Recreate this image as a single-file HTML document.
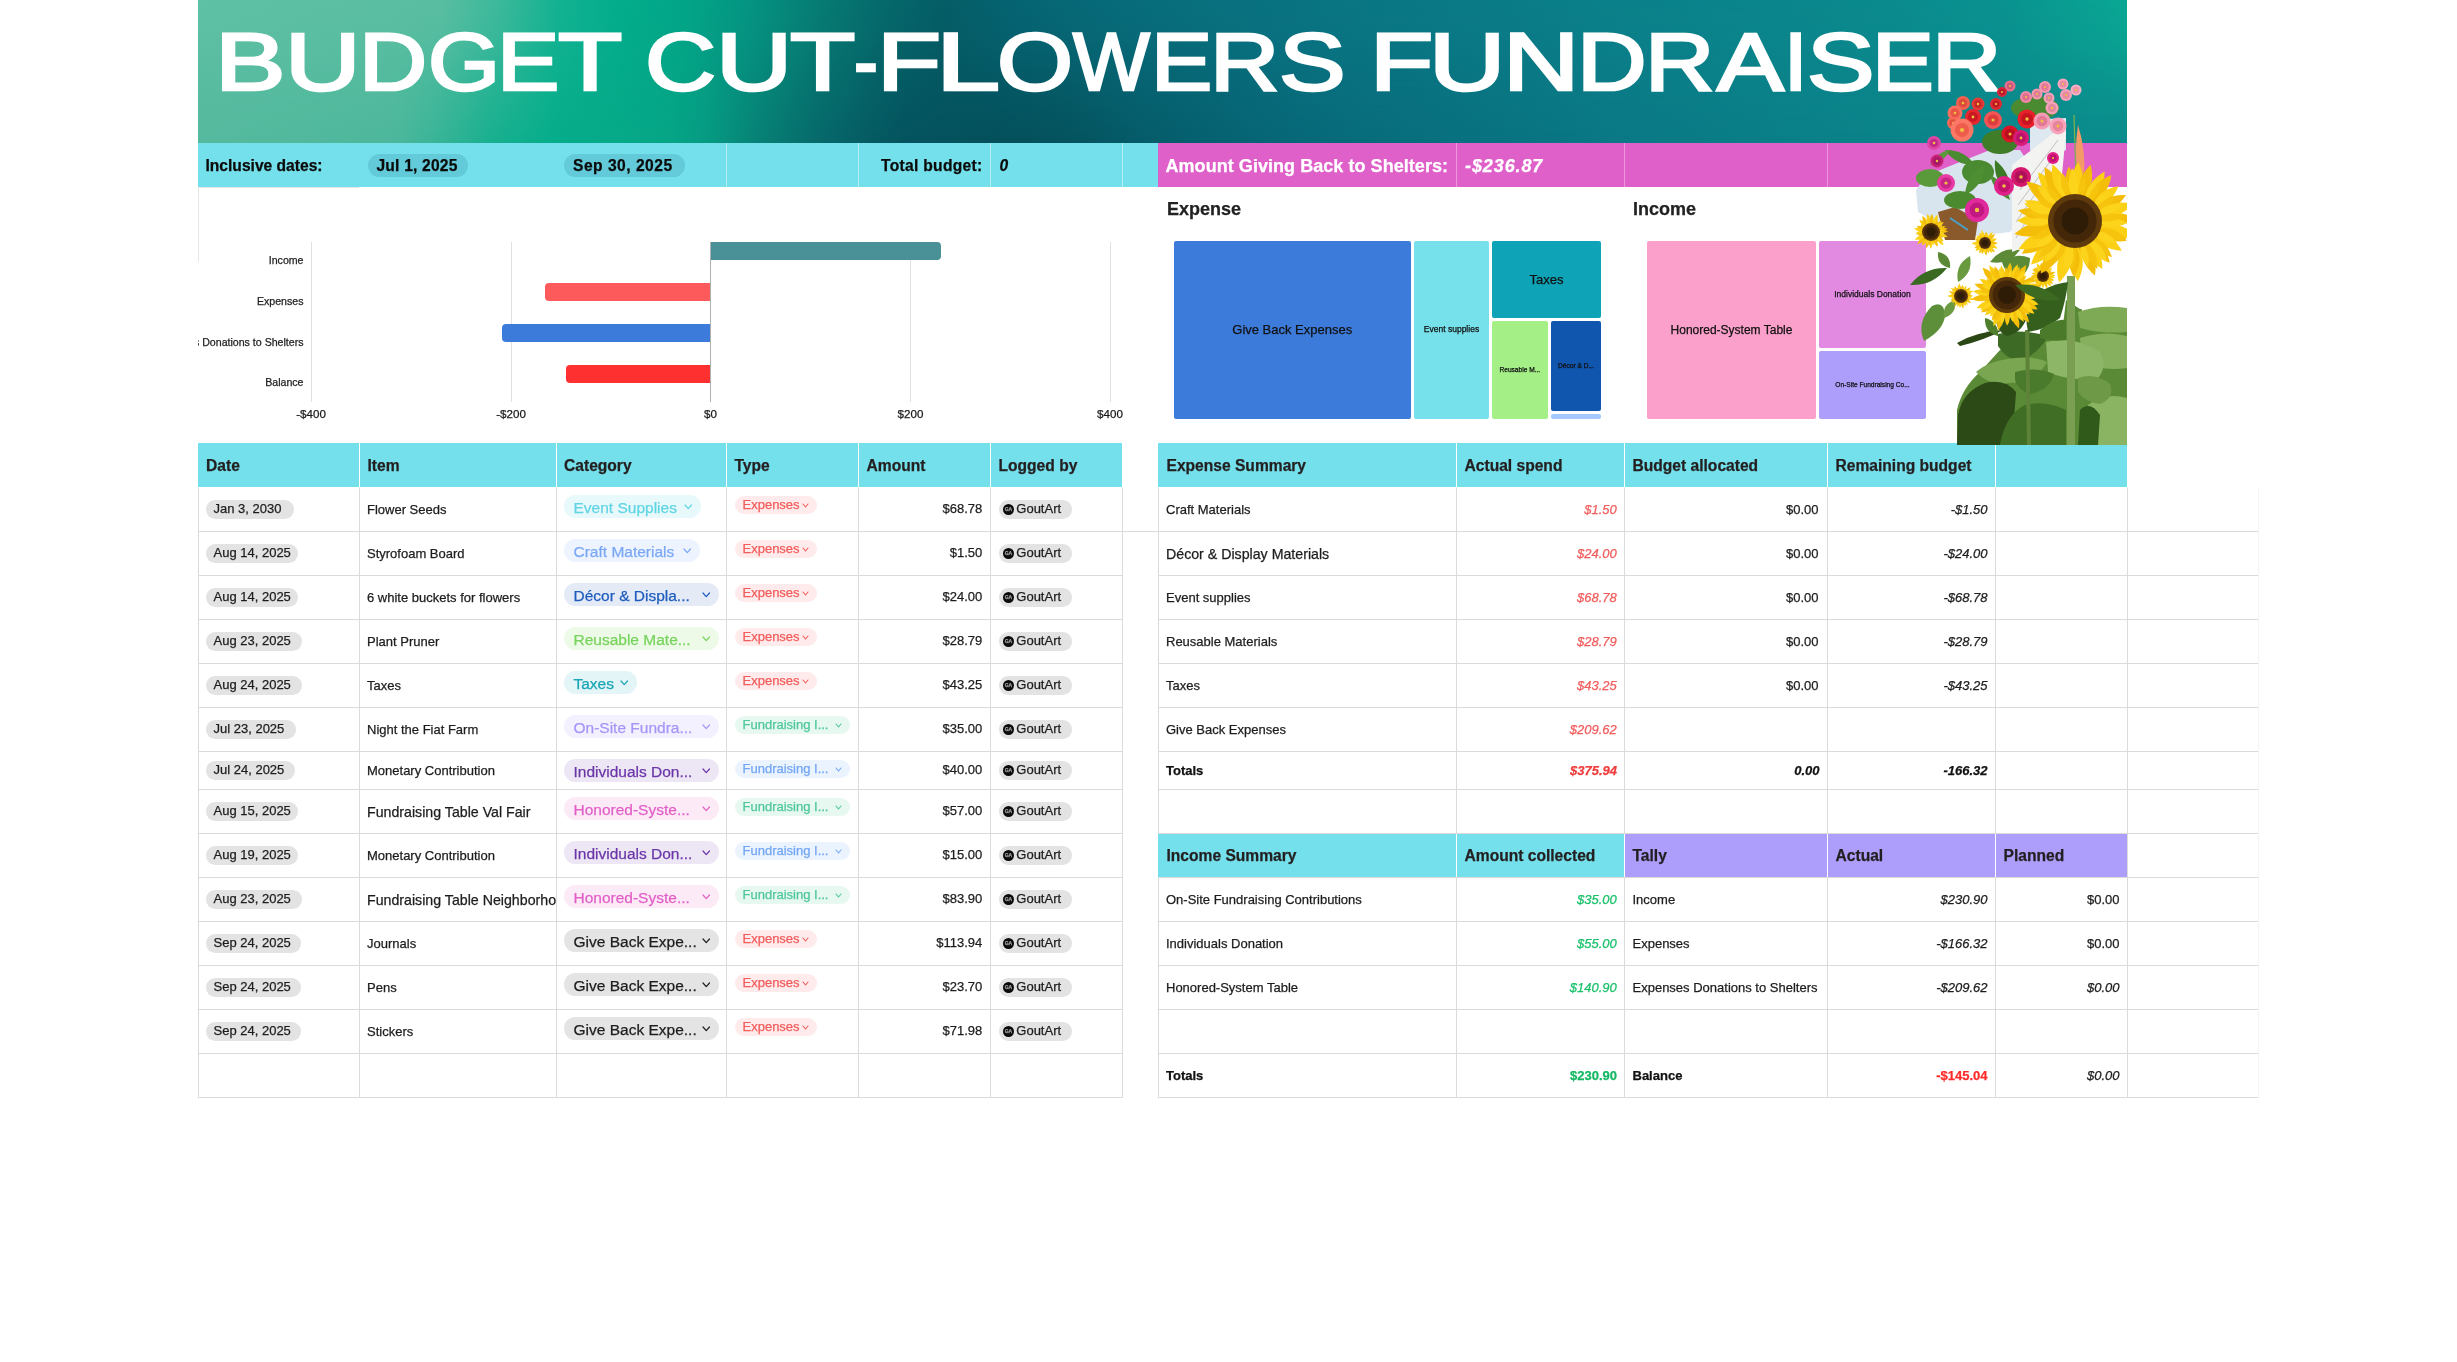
<!DOCTYPE html>
<html><head><meta charset="utf-8"><title>Budget Cut-Flowers Fundraiser</title>
<style>
*{margin:0;padding:0;box-sizing:border-box}
html,body{width:2457px;height:1362px;background:#fff;overflow:hidden}
body{position:relative;font-family:'Liberation Sans', sans-serif}
.a{position:absolute}
.t{position:absolute;white-space:nowrap;line-height:1;font-family:'Liberation Sans', sans-serif}
.t{-webkit-text-stroke:0.25px currentColor}
#root{position:absolute;left:0;top:0;width:2457px;height:1362px;will-change:transform}
</style></head>
<body><div id="root">
<div class="a" id="banner" style="left:198px;top:0;width:1929px;height:143px;background:linear-gradient(90deg,#5ec0a5 0.00%,#5abea2 12.55%,#3cb99b 15.66%,#12b292 18.77%,#03ad8c 21.88%,#03a487 25.51%,#059482 28.62%,#077c74 32.24%,#066a6c 35.36%,#055d66 38.72%,#066472 42.09%,#086b79 46.76%,#0a7482 57.13%,#0b808a 72.68%,#0b8b8e 88.23%,#0a9290 93.42%,#0a9c92 96.53%,#0aa894 100.00%);"></div><div class="a" style="left:198px;top:0;width:1929px;height:143px;background:linear-gradient(90deg,#55b99e 0.00%,#4db79b 10.16%,#3ab497 12.23%,#18af8f 15.14%,#06ad8a 18.30%,#05a586 24.42%,#069a82 26.44%,#078074 29.13%,#06686a 32.24%,#055c63 34.58%,#04535e 36.65%,#03505b 41.58%,#04525d 44.79%,#055b69 48.83%,#076878 56.97%,#0a7885 73.25%,#0b8489 89.53%,#0b8a8c 100.00%);-webkit-mask-image:linear-gradient(180deg,rgba(0,0,0,0) 0%,rgba(0,0,0,0.15) 25%,rgba(0,0,0,0.6) 60%,#000 100%);mask-image:linear-gradient(180deg,rgba(0,0,0,0) 0%,rgba(0,0,0,0.15) 25%,rgba(0,0,0,0.6) 60%,#000 100%);"></div><div class="t" style="left:215.34px;top:20.50px;font-size:82px;color:#fff;-webkit-text-stroke:2.6px #fff;transform:scaleX(1.2915);transform-origin:0 0;">B</div><div class="t" style="left:284.62px;top:20.50px;font-size:82px;color:#fff;-webkit-text-stroke:2.6px #fff;transform:scaleX(1.2755);transform-origin:0 0;">U</div><div class="t" style="left:358.85px;top:20.50px;font-size:82px;color:#fff;-webkit-text-stroke:2.6px #fff;transform:scaleX(1.1500);transform-origin:0 0;">D</div><div class="t" style="left:427.81px;top:20.50px;font-size:82px;color:#fff;-webkit-text-stroke:2.6px #fff;transform:scaleX(1.1304);transform-origin:0 0;">G</div><div class="t" style="left:496.50px;top:20.50px;font-size:82px;color:#fff;-webkit-text-stroke:2.6px #fff;transform:scaleX(1.1396);transform-origin:0 0;">E</div><div class="t" style="left:557.70px;top:20.50px;font-size:82px;color:#fff;-webkit-text-stroke:2.6px #fff;transform:scaleX(1.2820);transform-origin:0 0;">T</div><div class="t" style="left:645.21px;top:20.50px;font-size:82px;color:#fff;-webkit-text-stroke:2.6px #fff;transform:scaleX(1.1982);transform-origin:0 0;">C</div><div class="t" style="left:715.67px;top:20.50px;font-size:82px;color:#fff;-webkit-text-stroke:2.6px #fff;transform:scaleX(1.2857);transform-origin:0 0;">U</div><div class="t" style="left:789.50px;top:20.50px;font-size:82px;color:#fff;-webkit-text-stroke:2.6px #fff;transform:scaleX(1.3040);transform-origin:0 0;">T</div><div class="t" style="left:854.35px;top:20.50px;font-size:82px;color:#fff;-webkit-text-stroke:2.6px #fff;transform:scaleX(0.8739);transform-origin:0 0;">-</div><div class="t" style="left:876.80px;top:20.50px;font-size:82px;color:#fff;-webkit-text-stroke:2.6px #fff;transform:scaleX(1.2791);transform-origin:0 0;">F</div><div class="t" style="left:936.27px;top:20.50px;font-size:82px;color:#fff;-webkit-text-stroke:2.6px #fff;transform:scaleX(1.4051);transform-origin:0 0;">L</div><div class="t" style="left:996.52px;top:20.50px;font-size:82px;color:#fff;-webkit-text-stroke:2.6px #fff;transform:scaleX(1.1931);transform-origin:0 0;">O</div><div class="t" style="left:1072.79px;top:20.50px;font-size:82px;color:#fff;-webkit-text-stroke:2.6px #fff;transform:scaleX(0.9912);transform-origin:0 0;">W</div><div class="t" style="left:1151.01px;top:20.50px;font-size:82px;color:#fff;-webkit-text-stroke:2.6px #fff;transform:scaleX(1.1188);transform-origin:0 0;">E</div><div class="t" style="left:1210.34px;top:20.50px;font-size:82px;color:#fff;-webkit-text-stroke:2.6px #fff;transform:scaleX(1.1712);transform-origin:0 0;">R</div><div class="t" style="left:1278.76px;top:20.50px;font-size:82px;color:#fff;-webkit-text-stroke:2.6px #fff;transform:scaleX(1.2180);transform-origin:0 0;">S</div><div class="t" style="left:1369.67px;top:20.50px;font-size:82px;color:#fff;-webkit-text-stroke:2.6px #fff;transform:scaleX(1.2651);transform-origin:0 0;">F</div><div class="t" style="left:1429.36px;top:20.50px;font-size:82px;color:#fff;-webkit-text-stroke:2.6px #fff;transform:scaleX(1.2878);transform-origin:0 0;">U</div><div class="t" style="left:1502.56px;top:20.50px;font-size:82px;color:#fff;-webkit-text-stroke:2.6px #fff;transform:scaleX(1.2878);transform-origin:0 0;">N</div><div class="t" style="left:1577.03px;top:20.50px;font-size:82px;color:#fff;-webkit-text-stroke:2.6px #fff;transform:scaleX(1.1750);transform-origin:0 0;">D</div><div class="t" style="left:1645.43px;top:20.50px;font-size:82px;color:#fff;-webkit-text-stroke:2.6px #fff;transform:scaleX(1.1731);transform-origin:0 0;">R</div><div class="t" style="left:1716.94px;top:20.50px;font-size:82px;color:#fff;-webkit-text-stroke:2.6px #fff;transform:scaleX(1.2207);transform-origin:0 0;">A</div><div class="t" style="left:1784.44px;top:20.50px;font-size:82px;color:#fff;-webkit-text-stroke:2.6px #fff;transform:scaleX(1.0273);transform-origin:0 0;">I</div><div class="t" style="left:1806.93px;top:20.50px;font-size:82px;color:#fff;-webkit-text-stroke:2.6px #fff;transform:scaleX(1.2340);transform-origin:0 0;">S</div><div class="t" style="left:1872.25px;top:20.50px;font-size:82px;color:#fff;-webkit-text-stroke:2.6px #fff;transform:scaleX(1.1292);transform-origin:0 0;">E</div><div class="t" style="left:1931.53px;top:20.50px;font-size:82px;color:#fff;-webkit-text-stroke:2.6px #fff;transform:scaleX(1.1731);transform-origin:0 0;">R</div><div class="a" style="left:198px;top:143px;width:960px;height:44px;background:#74e0eb;"></div><div class="a" style="left:1158px;top:143px;width:969px;height:44px;background:#df60c9;"></div><div class="a" style="left:726px;top:143px;width:1px;height:44px;background:rgba(255,255,255,0.45);"></div><div class="a" style="left:858px;top:143px;width:1px;height:44px;background:rgba(255,255,255,0.45);"></div><div class="a" style="left:990px;top:143px;width:1px;height:44px;background:rgba(255,255,255,0.45);"></div><div class="a" style="left:1122px;top:143px;width:1px;height:44px;background:rgba(255,255,255,0.45);"></div><div class="a" style="left:1456px;top:143px;width:1px;height:44px;background:rgba(255,255,255,0.35);"></div><div class="a" style="left:1624px;top:143px;width:1px;height:44px;background:rgba(255,255,255,0.35);"></div><div class="a" style="left:1827px;top:143px;width:1px;height:44px;background:rgba(255,255,255,0.35);"></div><div class="t" style="top:158.34px;font-size:15.6px;color:#0b0b0b;font-weight:bold;left:205.50px;">Inclusive dates:</div><div class="a" style="left:368px;top:154px;width:100px;height:23px;background:#62cad9;border-radius:12px;"></div><div class="a" style="left:564px;top:154px;width:120.5px;height:23px;background:#62cad9;border-radius:12px;"></div><div class="t" style="top:158.34px;font-size:15.6px;color:#0b0b0b;font-weight:bold;letter-spacing:0.2px;left:376.50px;">Jul 1, 2025</div><div class="t" style="top:158.34px;font-size:15.6px;color:#0b0b0b;font-weight:bold;letter-spacing:0.5px;left:573.00px;">Sep 30, 2025</div><div class="t" style="top:158.34px;font-size:15.6px;color:#0b0b0b;font-weight:bold;letter-spacing:0.3px;right:1474.50px;">Total budget:</div><div class="t" style="top:158.34px;font-size:15.6px;color:#0b0b0b;font-weight:bold;font-style:italic;left:999.50px;">0</div><div class="t" style="top:156.70px;font-size:18px;color:#ffffff;font-weight:bold;letter-spacing:0.05px;left:1165.50px;">Amount Giving Back to Shelters:</div><div class="t" style="top:156.70px;font-size:18px;color:#ffffff;font-weight:bold;font-style:italic;letter-spacing:0.9px;left:1465.00px;">-$236.87</div><div class="a" style="left:198px;top:187px;width:161px;height:1px;background:#e6e6e6;"></div><div class="a" style="left:198px;top:187px;width:1px;height:75px;background:#e6e6e6;"></div><div class="a" style="left:311px;top:242px;width:1px;height:160px;background:#e0e0e0;"></div><div class="a" style="left:511px;top:242px;width:1px;height:160px;background:#e0e0e0;"></div><div class="a" style="left:910px;top:242px;width:1px;height:160px;background:#e0e0e0;"></div><div class="a" style="left:1110px;top:242px;width:1px;height:160px;background:#e0e0e0;"></div><div class="a" style="left:710px;top:242px;width:1px;height:160px;background:#b0b0b0;"></div><div class="a" style="left:711px;top:242px;width:230px;height:18px;background:#4a9197;border-radius:0 4px 4px 0;"></div><div class="a" style="left:545px;top:283px;width:165px;height:17.5px;background:#fc5a5b;border-radius:4px 0 0 4px;"></div><div class="a" style="left:501.5px;top:324px;width:208.5px;height:17.5px;background:#3d7bdb;border-radius:4px 0 0 4px;"></div><div class="a" style="left:566px;top:365px;width:144px;height:17.5px;background:#ff3030;border-radius:4px 0 0 4px;"></div><div class="t" style="top:407.74px;font-size:11.6px;color:#1a1a1a;left:-189.00px;width:1000px;text-align:center;">-$400</div><div class="t" style="top:407.74px;font-size:11.6px;color:#1a1a1a;left:11.00px;width:1000px;text-align:center;">-$200</div><div class="t" style="top:407.74px;font-size:11.6px;color:#1a1a1a;left:210.50px;width:1000px;text-align:center;">$0</div><div class="t" style="top:407.74px;font-size:11.6px;color:#1a1a1a;left:410.50px;width:1000px;text-align:center;">$200</div><div class="t" style="top:407.74px;font-size:11.6px;color:#1a1a1a;left:610.00px;width:1000px;text-align:center;">$400</div><div class="a" style="left:198px;top:240px;width:120px;height:160px;overflow:hidden;"><div class="t" style="right:14.5px;top:14.99px;font-size:10.6px;color:#222;">Income</div><div class="t" style="right:14.5px;top:55.99px;font-size:10.6px;color:#222;">Expenses</div><div class="t" style="right:14.5px;top:96.99px;font-size:10.6px;color:#222;">Expenses Donations to Shelters</div><div class="t" style="right:14.5px;top:136.99px;font-size:10.6px;color:#222;">Balance</div></div><div class="t" style="top:200.00px;font-size:18px;color:#222;font-weight:bold;left:1167.00px;">Expense</div><div class="t" style="top:200.00px;font-size:18px;color:#222;font-weight:bold;left:1633.00px;">Income</div><div class="a" style="left:1174px;top:240.6px;width:236.5px;height:178.1px;background:#3d7bdb;border-radius:2px;"></div><div class="t" style="top:323.15px;font-size:13px;color:#111;left:792.25px;width:1000px;text-align:center;">Give Back Expenses</div><div class="a" style="left:1414px;top:240.6px;width:75px;height:178.1px;background:#76e0eb;border-radius:2px;"></div><div class="t" style="top:325.40px;font-size:8.5px;color:#111;left:951.50px;width:1000px;text-align:center;">Event supplies</div><div class="a" style="left:1492px;top:240.6px;width:109px;height:77.1px;background:#0ea3b6;border-radius:2px;"></div><div class="t" style="top:272.65px;font-size:13px;color:#111;left:1046.50px;width:1000px;text-align:center;">Taxes</div><div class="a" style="left:1492px;top:321px;width:55.59999999999991px;height:97.69999999999999px;background:#a4f087;border-radius:2px;"></div><div class="t" style="top:366.55px;font-size:6.6px;color:#111;left:1019.80px;width:1000px;text-align:center;">Reusable M...</div><div class="a" style="left:1551px;top:321px;width:50px;height:90px;background:#1055ae;border-radius:2px;"></div><div class="t" style="top:362.70px;font-size:6.6px;color:#111;left:1076.00px;width:1000px;text-align:center;">Décor &amp; D...</div><div class="a" style="left:1551px;top:414.4px;width:50px;height:4.300000000000011px;background:#a6c8ff;border-radius:2px;"></div><div class="a" style="left:1647px;top:240.6px;width:169px;height:178.1px;background:#fba0ca;border-radius:2px;"></div><div class="t" style="top:323.65px;font-size:12px;color:#111;left:1231.50px;width:1000px;text-align:center;">Honored-System Table</div><div class="a" style="left:1819px;top:240.6px;width:107px;height:107.1px;background:#e28ae2;border-radius:2px;"></div><div class="t" style="top:289.90px;font-size:8.5px;color:#111;left:1372.50px;width:1000px;text-align:center;">Individuals Donation</div><div class="a" style="left:1819px;top:351.3px;width:107px;height:67.39999999999998px;background:#ae9efc;border-radius:2px;"></div><div class="t" style="top:381.70px;font-size:6.6px;color:#111;left:1372.50px;width:1000px;text-align:center;">On-Site Fundraising Co...</div><div class="a" style="left:198px;top:531px;width:925px;height:1px;background:#dbdbdb;"></div><div class="a" style="left:198px;top:575px;width:925px;height:1px;background:#dbdbdb;"></div><div class="a" style="left:198px;top:619px;width:925px;height:1px;background:#dbdbdb;"></div><div class="a" style="left:198px;top:663px;width:925px;height:1px;background:#dbdbdb;"></div><div class="a" style="left:198px;top:707px;width:925px;height:1px;background:#dbdbdb;"></div><div class="a" style="left:198px;top:751px;width:925px;height:1px;background:#dbdbdb;"></div><div class="a" style="left:198px;top:789px;width:925px;height:1px;background:#dbdbdb;"></div><div class="a" style="left:198px;top:833px;width:925px;height:1px;background:#dbdbdb;"></div><div class="a" style="left:198px;top:877px;width:925px;height:1px;background:#dbdbdb;"></div><div class="a" style="left:198px;top:921px;width:925px;height:1px;background:#dbdbdb;"></div><div class="a" style="left:198px;top:965px;width:925px;height:1px;background:#dbdbdb;"></div><div class="a" style="left:198px;top:1009px;width:925px;height:1px;background:#dbdbdb;"></div><div class="a" style="left:198px;top:1053px;width:925px;height:1px;background:#dbdbdb;"></div><div class="a" style="left:198px;top:1097px;width:925px;height:1px;background:#dbdbdb;"></div><div class="a" style="left:198px;top:488px;width:1px;height:609px;background:#dbdbdb;"></div><div class="a" style="left:359px;top:488px;width:1px;height:609px;background:#dbdbdb;"></div><div class="a" style="left:556px;top:488px;width:1px;height:609px;background:#dbdbdb;"></div><div class="a" style="left:726px;top:488px;width:1px;height:609px;background:#dbdbdb;"></div><div class="a" style="left:858px;top:488px;width:1px;height:609px;background:#dbdbdb;"></div><div class="a" style="left:990px;top:488px;width:1px;height:609px;background:#dbdbdb;"></div><div class="a" style="left:1122px;top:488px;width:1px;height:609px;background:#dbdbdb;"></div><div class="a" style="left:1122px;top:531px;width:36px;height:1px;background:#dbdbdb;"></div><div class="a" style="left:1158px;top:531px;width:1101px;height:1px;background:#dbdbdb;"></div><div class="a" style="left:1158px;top:575px;width:1101px;height:1px;background:#dbdbdb;"></div><div class="a" style="left:1158px;top:619px;width:1101px;height:1px;background:#dbdbdb;"></div><div class="a" style="left:1158px;top:663px;width:1101px;height:1px;background:#dbdbdb;"></div><div class="a" style="left:1158px;top:707px;width:1101px;height:1px;background:#dbdbdb;"></div><div class="a" style="left:1158px;top:751px;width:1101px;height:1px;background:#dbdbdb;"></div><div class="a" style="left:1158px;top:789px;width:1101px;height:1px;background:#dbdbdb;"></div><div class="a" style="left:1158px;top:833px;width:1101px;height:1px;background:#dbdbdb;"></div><div class="a" style="left:1158px;top:877px;width:1101px;height:1px;background:#dbdbdb;"></div><div class="a" style="left:1158px;top:921px;width:1101px;height:1px;background:#dbdbdb;"></div><div class="a" style="left:1158px;top:965px;width:1101px;height:1px;background:#dbdbdb;"></div><div class="a" style="left:1158px;top:1009px;width:1101px;height:1px;background:#dbdbdb;"></div><div class="a" style="left:1158px;top:1053px;width:1101px;height:1px;background:#dbdbdb;"></div><div class="a" style="left:1158px;top:1097px;width:1101px;height:1px;background:#dbdbdb;"></div><div class="a" style="left:1158px;top:488px;width:1px;height:610px;background:#dbdbdb;"></div><div class="a" style="left:1456px;top:488px;width:1px;height:610px;background:#dbdbdb;"></div><div class="a" style="left:1624px;top:488px;width:1px;height:610px;background:#dbdbdb;"></div><div class="a" style="left:1827px;top:488px;width:1px;height:610px;background:#dbdbdb;"></div><div class="a" style="left:1995px;top:488px;width:1px;height:610px;background:#dbdbdb;"></div><div class="a" style="left:2127px;top:488px;width:1px;height:610px;background:#dbdbdb;"></div><div class="a" style="left:2258px;top:488px;width:1px;height:610px;background:#f4f4f4;"></div><div class="a" style="left:198px;top:443px;width:924px;height:44px;background:#74e0eb;"></div><div class="a" style="left:359px;top:443px;width:1px;height:44px;background:#ffffff;"></div><div class="a" style="left:556px;top:443px;width:1px;height:44px;background:#ffffff;"></div><div class="a" style="left:726px;top:443px;width:1px;height:44px;background:#ffffff;"></div><div class="a" style="left:858px;top:443px;width:1px;height:44px;background:#ffffff;"></div><div class="a" style="left:990px;top:443px;width:1px;height:44px;background:#ffffff;"></div><div class="a" style="left:1158px;top:443px;width:969px;height:44px;background:#74e0eb;"></div><div class="a" style="left:1456px;top:443px;width:1px;height:44px;background:#ffffff;"></div><div class="a" style="left:1624px;top:443px;width:1px;height:44px;background:#ffffff;"></div><div class="a" style="left:1827px;top:443px;width:1px;height:44px;background:#ffffff;"></div><div class="a" style="left:1995px;top:443px;width:1px;height:44px;background:#ffffff;"></div><div class="a" style="left:1158px;top:834px;width:466px;height:43px;background:#74e0eb;"></div><div class="a" style="left:1624px;top:834px;width:503px;height:43px;background:#ae9efc;"></div><div class="a" style="left:1456px;top:834px;width:1px;height:43px;background:#ffffff;"></div><div class="a" style="left:1624px;top:834px;width:1px;height:43px;background:#ffffff;"></div><div class="a" style="left:1827px;top:834px;width:1px;height:43px;background:#ffffff;"></div><div class="a" style="left:1995px;top:834px;width:1px;height:43px;background:#ffffff;"></div><div class="t" style="top:458.04px;font-size:15.6px;color:#231f20;font-weight:bold;left:206.00px;">Date</div><div class="t" style="top:458.04px;font-size:15.6px;color:#231f20;font-weight:bold;left:367.50px;">Item</div><div class="t" style="top:458.04px;font-size:15.6px;color:#231f20;font-weight:bold;left:564.00px;">Category</div><div class="t" style="top:458.04px;font-size:15.6px;color:#231f20;font-weight:bold;left:734.50px;">Type</div><div class="t" style="top:458.04px;font-size:15.6px;color:#231f20;font-weight:bold;left:866.50px;">Amount</div><div class="t" style="top:458.04px;font-size:15.6px;color:#231f20;font-weight:bold;left:998.50px;">Logged by</div><div class="t" style="top:458.04px;font-size:15.6px;color:#231f20;font-weight:bold;left:1166.50px;">Expense Summary</div><div class="t" style="top:458.04px;font-size:15.6px;color:#231f20;font-weight:bold;left:1464.50px;">Actual spend</div><div class="t" style="top:458.04px;font-size:15.6px;color:#231f20;font-weight:bold;left:1632.50px;">Budget allocated</div><div class="t" style="top:458.04px;font-size:15.6px;color:#231f20;font-weight:bold;left:1835.50px;">Remaining budget</div><div class="t" style="top:848.24px;font-size:15.6px;color:#231f20;font-weight:bold;left:1166.50px;">Income Summary</div><div class="t" style="top:848.24px;font-size:15.6px;color:#231f20;font-weight:bold;left:1464.50px;">Amount collected</div><div class="t" style="top:848.24px;font-size:15.6px;color:#231f20;font-weight:bold;left:1632.50px;">Tally</div><div class="t" style="top:848.24px;font-size:15.6px;color:#231f20;font-weight:bold;left:1835.50px;">Actual</div><div class="t" style="top:848.24px;font-size:15.6px;color:#231f20;font-weight:bold;left:2003.50px;">Planned</div><div class="a" style="left:206px;top:500.3px;width:87.6px;height:18.4px;background:#e3e3e3;border-radius:9.2px;"></div><div class="t" style="top:502.05px;font-size:13px;color:#1d1d1f;left:213.50px;">Jan 3, 2030</div><div class="t" style="top:502.95px;font-size:13px;color:#1d1d1f;left:367.00px;">Flower Seeds</div><div class="a" style="left:564px;top:495px;width:136.8px;height:22.8px;background:#e8f9fb;border-radius:11.4px;"></div><div class="t" style="top:499.62px;font-size:15.5px;color:#5fd5e4;left:573.50px;">Event Supplies</div><svg class="a" style="left:683.8px;top:504.4px" width="8.5" height="5.6"><path d="M1 1 L4.25 4.6 L7.5 1" fill="none" stroke="#5fd5e4" stroke-width="1.2" stroke-linecap="round" stroke-linejoin="round"/></svg><div class="a" style="left:735px;top:495.5px;width:82px;height:18.4px;background:#ffebeb;border-radius:9.2px;"></div><div class="t" style="top:498.05px;font-size:13px;color:#f35b5b;left:742.50px;">Expenses</div><svg class="a" style="left:802px;top:502.5px" width="7" height="5"><path d="M1 1 L3.5 4 L6 1" fill="none" stroke="#f35b5b" stroke-width="1.1" stroke-linecap="round" stroke-linejoin="round"/></svg><div class="t" style="top:502.45px;font-size:13px;color:#1d1d1f;right:1474.70px;">$68.78</div><div class="a" style="left:999px;top:500.4px;width:73px;height:18.4px;background:#e3e3e3;border-radius:9.2px;"></div><div class="a" style="left:1002.8px;top:503.90px;width:11.3px;height:11.3px;border-radius:50%;background:#0a0a0a;"></div><div class="t" style="top:507.05px;font-size:5px;color:#a0a0a0;font-weight:bold;left:508.45px;width:1000px;text-align:center;">GA</div><div class="t" style="top:501.85px;font-size:13px;color:#1d1d1f;left:1016.30px;">GoutArt</div><div class="a" style="left:206px;top:544.3px;width:92.2px;height:18.4px;background:#e3e3e3;border-radius:9.2px;"></div><div class="t" style="top:546.05px;font-size:13px;color:#1d1d1f;left:213.50px;">Aug 14, 2025</div><div class="t" style="top:546.95px;font-size:13px;color:#1d1d1f;left:367.00px;">Styrofoam Board</div><div class="a" style="left:564px;top:539px;width:136px;height:22.8px;background:#edf4ff;border-radius:11.4px;"></div><div class="t" style="top:543.62px;font-size:15.5px;color:#7ba8f5;left:573.50px;">Craft Materials</div><svg class="a" style="left:683px;top:548.4000000000001px" width="8.5" height="5.6"><path d="M1 1 L4.25 4.6 L7.5 1" fill="none" stroke="#7ba8f5" stroke-width="1.2" stroke-linecap="round" stroke-linejoin="round"/></svg><div class="a" style="left:735px;top:539.5px;width:82px;height:18.4px;background:#ffebeb;border-radius:9.2px;"></div><div class="t" style="top:542.05px;font-size:13px;color:#f35b5b;left:742.50px;">Expenses</div><svg class="a" style="left:802px;top:546.5px" width="7" height="5"><path d="M1 1 L3.5 4 L6 1" fill="none" stroke="#f35b5b" stroke-width="1.1" stroke-linecap="round" stroke-linejoin="round"/></svg><div class="t" style="top:546.45px;font-size:13px;color:#1d1d1f;right:1474.70px;">$1.50</div><div class="a" style="left:999px;top:544.4px;width:73px;height:18.4px;background:#e3e3e3;border-radius:9.2px;"></div><div class="a" style="left:1002.8px;top:547.90px;width:11.3px;height:11.3px;border-radius:50%;background:#0a0a0a;"></div><div class="t" style="top:551.05px;font-size:5px;color:#a0a0a0;font-weight:bold;left:508.45px;width:1000px;text-align:center;">GA</div><div class="t" style="top:545.85px;font-size:13px;color:#1d1d1f;left:1016.30px;">GoutArt</div><div class="a" style="left:206px;top:588.3px;width:92.2px;height:18.4px;background:#e3e3e3;border-radius:9.2px;"></div><div class="t" style="top:590.05px;font-size:13px;color:#1d1d1f;left:213.50px;">Aug 14, 2025</div><div class="t" style="top:590.95px;font-size:13px;color:#1d1d1f;left:367.00px;">6 white buckets for flowers</div><div class="a" style="left:564px;top:583px;width:154.7px;height:22.8px;background:#e4ebf7;border-radius:11.4px;"></div><div class="t" style="top:587.62px;font-size:15.5px;color:#1f5cbd;left:573.50px;">Décor &amp; Displa...</div><svg class="a" style="left:701.7px;top:592.4000000000001px" width="8.5" height="5.6"><path d="M1 1 L4.25 4.6 L7.5 1" fill="none" stroke="#1f5cbd" stroke-width="1.2" stroke-linecap="round" stroke-linejoin="round"/></svg><div class="a" style="left:735px;top:583.5px;width:82px;height:18.4px;background:#ffebeb;border-radius:9.2px;"></div><div class="t" style="top:586.05px;font-size:13px;color:#f35b5b;left:742.50px;">Expenses</div><svg class="a" style="left:802px;top:590.5px" width="7" height="5"><path d="M1 1 L3.5 4 L6 1" fill="none" stroke="#f35b5b" stroke-width="1.1" stroke-linecap="round" stroke-linejoin="round"/></svg><div class="t" style="top:590.45px;font-size:13px;color:#1d1d1f;right:1474.70px;">$24.00</div><div class="a" style="left:999px;top:588.4px;width:73px;height:18.4px;background:#e3e3e3;border-radius:9.2px;"></div><div class="a" style="left:1002.8px;top:591.90px;width:11.3px;height:11.3px;border-radius:50%;background:#0a0a0a;"></div><div class="t" style="top:595.05px;font-size:5px;color:#a0a0a0;font-weight:bold;left:508.45px;width:1000px;text-align:center;">GA</div><div class="t" style="top:589.85px;font-size:13px;color:#1d1d1f;left:1016.30px;">GoutArt</div><div class="a" style="left:206px;top:632.3px;width:95.6px;height:18.4px;background:#e3e3e3;border-radius:9.2px;"></div><div class="t" style="top:634.05px;font-size:13px;color:#1d1d1f;left:213.50px;">Aug 23, 2025</div><div class="t" style="top:634.95px;font-size:13px;color:#1d1d1f;left:367.00px;">Plant Pruner</div><div class="a" style="left:564px;top:627px;width:154.7px;height:22.8px;background:#edfae7;border-radius:11.4px;"></div><div class="t" style="top:631.62px;font-size:15.5px;color:#78d35c;left:573.50px;">Reusable Mate...</div><svg class="a" style="left:701.7px;top:636.4000000000001px" width="8.5" height="5.6"><path d="M1 1 L4.25 4.6 L7.5 1" fill="none" stroke="#78d35c" stroke-width="1.2" stroke-linecap="round" stroke-linejoin="round"/></svg><div class="a" style="left:735px;top:627.5px;width:82px;height:18.4px;background:#ffebeb;border-radius:9.2px;"></div><div class="t" style="top:630.05px;font-size:13px;color:#f35b5b;left:742.50px;">Expenses</div><svg class="a" style="left:802px;top:634.5px" width="7" height="5"><path d="M1 1 L3.5 4 L6 1" fill="none" stroke="#f35b5b" stroke-width="1.1" stroke-linecap="round" stroke-linejoin="round"/></svg><div class="t" style="top:634.45px;font-size:13px;color:#1d1d1f;right:1474.70px;">$28.79</div><div class="a" style="left:999px;top:632.4px;width:73px;height:18.4px;background:#e3e3e3;border-radius:9.2px;"></div><div class="a" style="left:1002.8px;top:635.90px;width:11.3px;height:11.3px;border-radius:50%;background:#0a0a0a;"></div><div class="t" style="top:639.05px;font-size:5px;color:#a0a0a0;font-weight:bold;left:508.45px;width:1000px;text-align:center;">GA</div><div class="t" style="top:633.85px;font-size:13px;color:#1d1d1f;left:1016.30px;">GoutArt</div><div class="a" style="left:206px;top:676.3px;width:95.6px;height:18.4px;background:#e3e3e3;border-radius:9.2px;"></div><div class="t" style="top:678.05px;font-size:13px;color:#1d1d1f;left:213.50px;">Aug 24, 2025</div><div class="t" style="top:678.95px;font-size:13px;color:#1d1d1f;left:367.00px;">Taxes</div><div class="a" style="left:564px;top:671px;width:73.4px;height:22.8px;background:#e3f5f7;border-radius:11.4px;"></div><div class="t" style="top:675.62px;font-size:15.5px;color:#1aa5b5;left:573.50px;">Taxes</div><svg class="a" style="left:620.4px;top:680.4000000000001px" width="8.5" height="5.6"><path d="M1 1 L4.25 4.6 L7.5 1" fill="none" stroke="#1aa5b5" stroke-width="1.2" stroke-linecap="round" stroke-linejoin="round"/></svg><div class="a" style="left:735px;top:671.5px;width:82px;height:18.4px;background:#ffebeb;border-radius:9.2px;"></div><div class="t" style="top:674.05px;font-size:13px;color:#f35b5b;left:742.50px;">Expenses</div><svg class="a" style="left:802px;top:678.5px" width="7" height="5"><path d="M1 1 L3.5 4 L6 1" fill="none" stroke="#f35b5b" stroke-width="1.1" stroke-linecap="round" stroke-linejoin="round"/></svg><div class="t" style="top:678.45px;font-size:13px;color:#1d1d1f;right:1474.70px;">$43.25</div><div class="a" style="left:999px;top:676.4px;width:73px;height:18.4px;background:#e3e3e3;border-radius:9.2px;"></div><div class="a" style="left:1002.8px;top:679.90px;width:11.3px;height:11.3px;border-radius:50%;background:#0a0a0a;"></div><div class="t" style="top:683.05px;font-size:5px;color:#a0a0a0;font-weight:bold;left:508.45px;width:1000px;text-align:center;">GA</div><div class="t" style="top:677.85px;font-size:13px;color:#1d1d1f;left:1016.30px;">GoutArt</div><div class="a" style="left:206px;top:720.3px;width:89.9px;height:18.4px;background:#e3e3e3;border-radius:9.2px;"></div><div class="t" style="top:722.05px;font-size:13px;color:#1d1d1f;left:213.50px;">Jul 23, 2025</div><div class="t" style="top:722.95px;font-size:13px;color:#1d1d1f;left:367.00px;">Night the Fiat Farm</div><div class="a" style="left:564px;top:715px;width:154.7px;height:22.8px;background:#f3f1ff;border-radius:11.4px;"></div><div class="t" style="top:719.62px;font-size:15.5px;color:#a596f8;left:573.50px;">On-Site Fundra...</div><svg class="a" style="left:701.7px;top:724.4000000000001px" width="8.5" height="5.6"><path d="M1 1 L4.25 4.6 L7.5 1" fill="none" stroke="#a596f8" stroke-width="1.2" stroke-linecap="round" stroke-linejoin="round"/></svg><div class="a" style="left:735px;top:715.5px;width:115.2px;height:18.4px;background:#e7f8f1;border-radius:9.2px;"></div><div class="t" style="top:718.05px;font-size:13px;color:#4ec79c;left:742.50px;">Fundraising I...</div><svg class="a" style="left:835.2px;top:722.5px" width="7" height="5"><path d="M1 1 L3.5 4 L6 1" fill="none" stroke="#4ec79c" stroke-width="1.1" stroke-linecap="round" stroke-linejoin="round"/></svg><div class="t" style="top:722.45px;font-size:13px;color:#1d1d1f;right:1474.70px;">$35.00</div><div class="a" style="left:999px;top:720.4px;width:73px;height:18.4px;background:#e3e3e3;border-radius:9.2px;"></div><div class="a" style="left:1002.8px;top:723.90px;width:11.3px;height:11.3px;border-radius:50%;background:#0a0a0a;"></div><div class="t" style="top:727.05px;font-size:5px;color:#a0a0a0;font-weight:bold;left:508.45px;width:1000px;text-align:center;">GA</div><div class="t" style="top:721.85px;font-size:13px;color:#1d1d1f;left:1016.30px;">GoutArt</div><div class="a" style="left:206px;top:761.3px;width:89.2px;height:18.4px;background:#e3e3e3;border-radius:9.2px;"></div><div class="t" style="top:763.05px;font-size:13px;color:#1d1d1f;left:213.50px;">Jul 24, 2025</div><div class="t" style="top:763.95px;font-size:13px;color:#1d1d1f;left:367.00px;">Monetary Contribution</div><div class="a" style="left:564px;top:759px;width:154.7px;height:22.8px;background:#ede7f5;border-radius:11.4px;"></div><div class="t" style="top:763.62px;font-size:15.5px;color:#6b36a8;left:573.50px;">Individuals Don...</div><svg class="a" style="left:701.7px;top:768.4000000000001px" width="8.5" height="5.6"><path d="M1 1 L4.25 4.6 L7.5 1" fill="none" stroke="#6b36a8" stroke-width="1.2" stroke-linecap="round" stroke-linejoin="round"/></svg><div class="a" style="left:735px;top:759.5px;width:115.2px;height:18.4px;background:#ebf3ff;border-radius:9.2px;"></div><div class="t" style="top:762.05px;font-size:13px;color:#72a6f6;left:742.50px;">Fundraising I...</div><svg class="a" style="left:835.2px;top:766.5px" width="7" height="5"><path d="M1 1 L3.5 4 L6 1" fill="none" stroke="#72a6f6" stroke-width="1.1" stroke-linecap="round" stroke-linejoin="round"/></svg><div class="t" style="top:763.45px;font-size:13px;color:#1d1d1f;right:1474.70px;">$40.00</div><div class="a" style="left:999px;top:761.4px;width:73px;height:18.4px;background:#e3e3e3;border-radius:9.2px;"></div><div class="a" style="left:1002.8px;top:764.90px;width:11.3px;height:11.3px;border-radius:50%;background:#0a0a0a;"></div><div class="t" style="top:768.05px;font-size:5px;color:#a0a0a0;font-weight:bold;left:508.45px;width:1000px;text-align:center;">GA</div><div class="t" style="top:762.85px;font-size:13px;color:#1d1d1f;left:1016.30px;">GoutArt</div><div class="a" style="left:206px;top:802.3px;width:92.2px;height:18.4px;background:#e3e3e3;border-radius:9.2px;"></div><div class="t" style="top:804.05px;font-size:13px;color:#1d1d1f;left:213.50px;">Aug 15, 2025</div><div class="a" style="left:360px;top:789px;width:196px;height:44px;overflow:hidden;"><div class="t" style="left:7px;top:16.13px;font-size:14.2px;color:#1d1d1f;">Fundraising Table Val Fair</div></div><div class="a" style="left:564px;top:797px;width:154.7px;height:22.8px;background:#fcebf7;border-radius:11.4px;"></div><div class="t" style="top:801.62px;font-size:15.5px;color:#e25fc7;left:573.50px;">Honored-Syste...</div><svg class="a" style="left:701.7px;top:806.4000000000001px" width="8.5" height="5.6"><path d="M1 1 L4.25 4.6 L7.5 1" fill="none" stroke="#e25fc7" stroke-width="1.2" stroke-linecap="round" stroke-linejoin="round"/></svg><div class="a" style="left:735px;top:797.5px;width:115.2px;height:18.4px;background:#e7f8f1;border-radius:9.2px;"></div><div class="t" style="top:800.05px;font-size:13px;color:#4ec79c;left:742.50px;">Fundraising I...</div><svg class="a" style="left:835.2px;top:804.5px" width="7" height="5"><path d="M1 1 L3.5 4 L6 1" fill="none" stroke="#4ec79c" stroke-width="1.1" stroke-linecap="round" stroke-linejoin="round"/></svg><div class="t" style="top:804.45px;font-size:13px;color:#1d1d1f;right:1474.70px;">$57.00</div><div class="a" style="left:999px;top:802.4px;width:73px;height:18.4px;background:#e3e3e3;border-radius:9.2px;"></div><div class="a" style="left:1002.8px;top:805.90px;width:11.3px;height:11.3px;border-radius:50%;background:#0a0a0a;"></div><div class="t" style="top:809.05px;font-size:5px;color:#a0a0a0;font-weight:bold;left:508.45px;width:1000px;text-align:center;">GA</div><div class="t" style="top:803.85px;font-size:13px;color:#1d1d1f;left:1016.30px;">GoutArt</div><div class="a" style="left:206px;top:846.3px;width:92.2px;height:18.4px;background:#e3e3e3;border-radius:9.2px;"></div><div class="t" style="top:848.05px;font-size:13px;color:#1d1d1f;left:213.50px;">Aug 19, 2025</div><div class="t" style="top:848.95px;font-size:13px;color:#1d1d1f;left:367.00px;">Monetary Contribution</div><div class="a" style="left:564px;top:841px;width:154.7px;height:22.8px;background:#ede7f5;border-radius:11.4px;"></div><div class="t" style="top:845.62px;font-size:15.5px;color:#6b36a8;left:573.50px;">Individuals Don...</div><svg class="a" style="left:701.7px;top:850.4000000000001px" width="8.5" height="5.6"><path d="M1 1 L4.25 4.6 L7.5 1" fill="none" stroke="#6b36a8" stroke-width="1.2" stroke-linecap="round" stroke-linejoin="round"/></svg><div class="a" style="left:735px;top:841.5px;width:115.2px;height:18.4px;background:#ebf3ff;border-radius:9.2px;"></div><div class="t" style="top:844.05px;font-size:13px;color:#72a6f6;left:742.50px;">Fundraising I...</div><svg class="a" style="left:835.2px;top:848.5px" width="7" height="5"><path d="M1 1 L3.5 4 L6 1" fill="none" stroke="#72a6f6" stroke-width="1.1" stroke-linecap="round" stroke-linejoin="round"/></svg><div class="t" style="top:848.45px;font-size:13px;color:#1d1d1f;right:1474.70px;">$15.00</div><div class="a" style="left:999px;top:846.4px;width:73px;height:18.4px;background:#e3e3e3;border-radius:9.2px;"></div><div class="a" style="left:1002.8px;top:849.90px;width:11.3px;height:11.3px;border-radius:50%;background:#0a0a0a;"></div><div class="t" style="top:853.05px;font-size:5px;color:#a0a0a0;font-weight:bold;left:508.45px;width:1000px;text-align:center;">GA</div><div class="t" style="top:847.85px;font-size:13px;color:#1d1d1f;left:1016.30px;">GoutArt</div><div class="a" style="left:206px;top:890.3px;width:95.6px;height:18.4px;background:#e3e3e3;border-radius:9.2px;"></div><div class="t" style="top:892.05px;font-size:13px;color:#1d1d1f;left:213.50px;">Aug 23, 2025</div><div class="a" style="left:360px;top:877px;width:196px;height:44px;overflow:hidden;"><div class="t" style="left:7px;top:16.13px;font-size:14.2px;color:#1d1d1f;">Fundraising Table Neighborhood</div></div><div class="a" style="left:564px;top:885px;width:154.7px;height:22.8px;background:#fcebf7;border-radius:11.4px;"></div><div class="t" style="top:889.62px;font-size:15.5px;color:#e25fc7;left:573.50px;">Honored-Syste...</div><svg class="a" style="left:701.7px;top:894.4000000000001px" width="8.5" height="5.6"><path d="M1 1 L4.25 4.6 L7.5 1" fill="none" stroke="#e25fc7" stroke-width="1.2" stroke-linecap="round" stroke-linejoin="round"/></svg><div class="a" style="left:735px;top:885.5px;width:115.2px;height:18.4px;background:#e7f8f1;border-radius:9.2px;"></div><div class="t" style="top:888.05px;font-size:13px;color:#4ec79c;left:742.50px;">Fundraising I...</div><svg class="a" style="left:835.2px;top:892.5px" width="7" height="5"><path d="M1 1 L3.5 4 L6 1" fill="none" stroke="#4ec79c" stroke-width="1.1" stroke-linecap="round" stroke-linejoin="round"/></svg><div class="t" style="top:892.45px;font-size:13px;color:#1d1d1f;right:1474.70px;">$83.90</div><div class="a" style="left:999px;top:890.4px;width:73px;height:18.4px;background:#e3e3e3;border-radius:9.2px;"></div><div class="a" style="left:1002.8px;top:893.90px;width:11.3px;height:11.3px;border-radius:50%;background:#0a0a0a;"></div><div class="t" style="top:897.05px;font-size:5px;color:#a0a0a0;font-weight:bold;left:508.45px;width:1000px;text-align:center;">GA</div><div class="t" style="top:891.85px;font-size:13px;color:#1d1d1f;left:1016.30px;">GoutArt</div><div class="a" style="left:206px;top:934.3px;width:95.3px;height:18.4px;background:#e3e3e3;border-radius:9.2px;"></div><div class="t" style="top:936.05px;font-size:13px;color:#1d1d1f;left:213.50px;">Sep 24, 2025</div><div class="t" style="top:936.95px;font-size:13px;color:#1d1d1f;left:367.00px;">Journals</div><div class="a" style="left:564px;top:929px;width:154.7px;height:22.8px;background:#e4e4e4;border-radius:11.4px;"></div><div class="t" style="top:933.62px;font-size:15.5px;color:#1d1d1f;left:573.50px;">Give Back Expe...</div><svg class="a" style="left:701.7px;top:938.4000000000001px" width="8.5" height="5.6"><path d="M1 1 L4.25 4.6 L7.5 1" fill="none" stroke="#1d1d1f" stroke-width="1.2" stroke-linecap="round" stroke-linejoin="round"/></svg><div class="a" style="left:735px;top:929.5px;width:82px;height:18.4px;background:#ffebeb;border-radius:9.2px;"></div><div class="t" style="top:932.05px;font-size:13px;color:#f35b5b;left:742.50px;">Expenses</div><svg class="a" style="left:802px;top:936.5px" width="7" height="5"><path d="M1 1 L3.5 4 L6 1" fill="none" stroke="#f35b5b" stroke-width="1.1" stroke-linecap="round" stroke-linejoin="round"/></svg><div class="t" style="top:936.45px;font-size:13px;color:#1d1d1f;right:1474.70px;">$113.94</div><div class="a" style="left:999px;top:934.4px;width:73px;height:18.4px;background:#e3e3e3;border-radius:9.2px;"></div><div class="a" style="left:1002.8px;top:937.90px;width:11.3px;height:11.3px;border-radius:50%;background:#0a0a0a;"></div><div class="t" style="top:941.05px;font-size:5px;color:#a0a0a0;font-weight:bold;left:508.45px;width:1000px;text-align:center;">GA</div><div class="t" style="top:935.85px;font-size:13px;color:#1d1d1f;left:1016.30px;">GoutArt</div><div class="a" style="left:206px;top:978.3px;width:95.3px;height:18.4px;background:#e3e3e3;border-radius:9.2px;"></div><div class="t" style="top:980.05px;font-size:13px;color:#1d1d1f;left:213.50px;">Sep 24, 2025</div><div class="t" style="top:980.95px;font-size:13px;color:#1d1d1f;left:367.00px;">Pens</div><div class="a" style="left:564px;top:973px;width:154.7px;height:22.8px;background:#e4e4e4;border-radius:11.4px;"></div><div class="t" style="top:977.62px;font-size:15.5px;color:#1d1d1f;left:573.50px;">Give Back Expe...</div><svg class="a" style="left:701.7px;top:982.4000000000001px" width="8.5" height="5.6"><path d="M1 1 L4.25 4.6 L7.5 1" fill="none" stroke="#1d1d1f" stroke-width="1.2" stroke-linecap="round" stroke-linejoin="round"/></svg><div class="a" style="left:735px;top:973.5px;width:82px;height:18.4px;background:#ffebeb;border-radius:9.2px;"></div><div class="t" style="top:976.05px;font-size:13px;color:#f35b5b;left:742.50px;">Expenses</div><svg class="a" style="left:802px;top:980.5px" width="7" height="5"><path d="M1 1 L3.5 4 L6 1" fill="none" stroke="#f35b5b" stroke-width="1.1" stroke-linecap="round" stroke-linejoin="round"/></svg><div class="t" style="top:980.45px;font-size:13px;color:#1d1d1f;right:1474.70px;">$23.70</div><div class="a" style="left:999px;top:978.4px;width:73px;height:18.4px;background:#e3e3e3;border-radius:9.2px;"></div><div class="a" style="left:1002.8px;top:981.90px;width:11.3px;height:11.3px;border-radius:50%;background:#0a0a0a;"></div><div class="t" style="top:985.05px;font-size:5px;color:#a0a0a0;font-weight:bold;left:508.45px;width:1000px;text-align:center;">GA</div><div class="t" style="top:979.85px;font-size:13px;color:#1d1d1f;left:1016.30px;">GoutArt</div><div class="a" style="left:206px;top:1022.3px;width:95.3px;height:18.4px;background:#e3e3e3;border-radius:9.2px;"></div><div class="t" style="top:1024.05px;font-size:13px;color:#1d1d1f;left:213.50px;">Sep 24, 2025</div><div class="t" style="top:1024.95px;font-size:13px;color:#1d1d1f;left:367.00px;">Stickers</div><div class="a" style="left:564px;top:1017px;width:154.7px;height:22.8px;background:#e4e4e4;border-radius:11.4px;"></div><div class="t" style="top:1021.62px;font-size:15.5px;color:#1d1d1f;left:573.50px;">Give Back Expe...</div><svg class="a" style="left:701.7px;top:1026.4px" width="8.5" height="5.6"><path d="M1 1 L4.25 4.6 L7.5 1" fill="none" stroke="#1d1d1f" stroke-width="1.2" stroke-linecap="round" stroke-linejoin="round"/></svg><div class="a" style="left:735px;top:1017.5px;width:82px;height:18.4px;background:#ffebeb;border-radius:9.2px;"></div><div class="t" style="top:1020.05px;font-size:13px;color:#f35b5b;left:742.50px;">Expenses</div><svg class="a" style="left:802px;top:1024.5px" width="7" height="5"><path d="M1 1 L3.5 4 L6 1" fill="none" stroke="#f35b5b" stroke-width="1.1" stroke-linecap="round" stroke-linejoin="round"/></svg><div class="t" style="top:1024.45px;font-size:13px;color:#1d1d1f;right:1474.70px;">$71.98</div><div class="a" style="left:999px;top:1022.4px;width:73px;height:18.4px;background:#e3e3e3;border-radius:9.2px;"></div><div class="a" style="left:1002.8px;top:1025.90px;width:11.3px;height:11.3px;border-radius:50%;background:#0a0a0a;"></div><div class="t" style="top:1029.05px;font-size:5px;color:#a0a0a0;font-weight:bold;left:508.45px;width:1000px;text-align:center;">GA</div><div class="t" style="top:1023.85px;font-size:13px;color:#1d1d1f;left:1016.30px;">GoutArt</div><div class="t" style="top:502.95px;font-size:13px;color:#1d1d1f;left:1166.00px;">Craft Materials</div><div class="t" style="top:502.95px;font-size:13px;color:#f25c5c;font-style:italic;right:840.20px;">$1.50</div><div class="t" style="top:502.95px;font-size:13px;color:#1d1d1f;right:638.50px;">$0.00</div><div class="t" style="top:502.95px;font-size:13px;color:#1d1d1f;font-style:italic;right:469.50px;">-$1.50</div><div class="t" style="top:546.93px;font-size:14.2px;color:#1d1d1f;left:1166.00px;">Décor &amp; Display Materials</div><div class="t" style="top:546.95px;font-size:13px;color:#f25c5c;font-style:italic;right:840.20px;">$24.00</div><div class="t" style="top:546.95px;font-size:13px;color:#1d1d1f;right:638.50px;">$0.00</div><div class="t" style="top:546.95px;font-size:13px;color:#1d1d1f;font-style:italic;right:469.50px;">-$24.00</div><div class="t" style="top:590.95px;font-size:13px;color:#1d1d1f;left:1166.00px;">Event supplies</div><div class="t" style="top:590.95px;font-size:13px;color:#f25c5c;font-style:italic;right:840.20px;">$68.78</div><div class="t" style="top:590.95px;font-size:13px;color:#1d1d1f;right:638.50px;">$0.00</div><div class="t" style="top:590.95px;font-size:13px;color:#1d1d1f;font-style:italic;right:469.50px;">-$68.78</div><div class="t" style="top:634.95px;font-size:13px;color:#1d1d1f;left:1166.00px;">Reusable Materials</div><div class="t" style="top:634.95px;font-size:13px;color:#f25c5c;font-style:italic;right:840.20px;">$28.79</div><div class="t" style="top:634.95px;font-size:13px;color:#1d1d1f;right:638.50px;">$0.00</div><div class="t" style="top:634.95px;font-size:13px;color:#1d1d1f;font-style:italic;right:469.50px;">-$28.79</div><div class="t" style="top:678.95px;font-size:13px;color:#1d1d1f;left:1166.00px;">Taxes</div><div class="t" style="top:678.95px;font-size:13px;color:#f25c5c;font-style:italic;right:840.20px;">$43.25</div><div class="t" style="top:678.95px;font-size:13px;color:#1d1d1f;right:638.50px;">$0.00</div><div class="t" style="top:678.95px;font-size:13px;color:#1d1d1f;font-style:italic;right:469.50px;">-$43.25</div><div class="t" style="top:722.95px;font-size:13px;color:#1d1d1f;left:1166.00px;">Give Back Expenses</div><div class="t" style="top:722.95px;font-size:13px;color:#f25c5c;font-style:italic;right:840.20px;">$209.62</div><div class="t" style="top:763.95px;font-size:13px;color:#111;font-weight:bold;left:1166.00px;">Totals</div><div class="t" style="top:763.95px;font-size:13px;color:#f03d3d;font-weight:bold;font-style:italic;right:840.00px;">$375.94</div><div class="t" style="top:763.95px;font-size:13px;color:#111;font-weight:bold;font-style:italic;right:637.50px;">0.00</div><div class="t" style="top:763.95px;font-size:13px;color:#111;font-weight:bold;font-style:italic;right:469.50px;">-166.32</div><div class="t" style="top:892.95px;font-size:13px;color:#1d1d1f;left:1166.00px;">On-Site Fundraising Contributions</div><div class="t" style="top:892.95px;font-size:13px;color:#19c06a;font-style:italic;right:840.20px;">$35.00</div><div class="t" style="top:892.95px;font-size:13px;color:#1d1d1f;left:1632.50px;">Income</div><div class="t" style="top:892.95px;font-size:13px;color:#1d1d1f;font-style:italic;right:469.50px;">$230.90</div><div class="t" style="top:892.95px;font-size:13px;color:#1d1d1f;right:337.50px;">$0.00</div><div class="t" style="top:936.95px;font-size:13px;color:#1d1d1f;left:1166.00px;">Individuals Donation</div><div class="t" style="top:936.95px;font-size:13px;color:#19c06a;font-style:italic;right:840.20px;">$55.00</div><div class="t" style="top:936.95px;font-size:13px;color:#1d1d1f;left:1632.50px;">Expenses</div><div class="t" style="top:936.95px;font-size:13px;color:#1d1d1f;font-style:italic;right:469.50px;">-$166.32</div><div class="t" style="top:936.95px;font-size:13px;color:#1d1d1f;right:337.50px;">$0.00</div><div class="t" style="top:980.95px;font-size:13px;color:#1d1d1f;left:1166.00px;">Honored-System Table</div><div class="t" style="top:980.95px;font-size:13px;color:#19c06a;font-style:italic;right:840.20px;">$140.90</div><div class="t" style="top:980.95px;font-size:13px;color:#1d1d1f;left:1632.50px;">Expenses Donations to Shelters</div><div class="t" style="top:980.95px;font-size:13px;color:#1d1d1f;font-style:italic;right:469.50px;">-$209.62</div><div class="t" style="top:980.95px;font-size:13px;color:#1d1d1f;font-style:italic;right:337.50px;">$0.00</div><div class="t" style="top:1068.95px;font-size:13px;color:#111;font-weight:bold;left:1166.00px;">Totals</div><div class="t" style="top:1068.95px;font-size:13px;color:#14b863;font-weight:bold;right:840.00px;">$230.90</div><div class="t" style="top:1068.95px;font-size:13px;color:#111;font-weight:bold;left:1632.50px;">Balance</div><div class="t" style="top:1068.95px;font-size:13px;color:#ff2b2b;font-weight:bold;right:469.50px;">-$145.04</div><div class="t" style="top:1068.95px;font-size:13px;color:#1d1d1f;font-style:italic;right:337.50px;">$0.00</div><svg class="a" style="left:1900px;top:60px" width="227" height="385" viewBox="1900 60 227 385"><path d="M1957 445 L1957 410 Q1962 388 1980 372 L2000 350 L2030 336 L2062 334 L2066 300 L2080 309 L2127 309 L2127 445 Z" fill="#5b8a36"/><path d="M2076 280 L2127 278 L2127 309 L2082 311 Z" fill="#ffffff"/><path d="M2078 312 Q2100 304 2127 308 L2127 332 Q2100 334 2080 328 Z" fill="#7eaa55"/><path d="M2080 338 Q2105 330 2127 336 L2127 368 Q2100 372 2082 360 Z" fill="#86b05e"/><path d="M2046 342 Q2075 335 2100 352 Q2108 366 2098 378 Q2070 382 2048 372 Z" fill="#8db766"/><path d="M2088 405 Q2105 392 2127 398 L2127 445 L2090 445 Z" fill="#8ab462"/><path d="M2078 378 Q2095 372 2110 384 Q2115 398 2100 404 Q2085 402 2078 392 Z" fill="#6e9a48"/><path d="M2080 410 Q2090 400 2100 415 L2098 445 L2078 445 Z" fill="#2f5a1a"/><path d="M1957 343 Q1975 332 2003 330 Q1985 340 1960 346 Z" fill="#2b4716"/><path d="M1998 334 Q2020 328 2048 336 Q2040 352 2020 362 Q2005 358 1998 346 Z" fill="#3d6b25"/><path d="M1976 372 Q1990 360 2015 358 Q2035 356 2047 362 Q2040 376 2020 382 L2000 384 Q1985 382 1976 372 Z" fill="#7aa652"/><path d="M2015 372 Q2035 366 2054 374 Q2050 390 2030 394 Q2018 390 2015 380 Z" fill="#4a7a2c"/><path d="M1957 445 L1958 415 Q1962 392 1985 383 Q2005 378 2016 392 L2014 420 L2000 445 Z" fill="#2b4a16"/><path d="M2000 445 Q2005 415 2025 405 Q2045 400 2066 410 L2066 445 Z" fill="#3f6e24"/><path d="M2067 276 L2075 276 L2075 445 L2067 445 Z" fill="#7b9f52"/><path d="M2025 330 L2029 330 L2031 445 L2027 445 Z" fill="#5d8238"/><path d="M2030 300 Q2045 285 2068 282 Q2066 300 2060 318 Q2045 330 2028 332 Q2024 316 2030 300 Z" fill="#355f1d"/><path d="M2040 330 Q2055 318 2066 320 L2066 340 Q2052 342 2040 338 Z" fill="#4a7a2a"/><path d="M2002 262 Q2015 252 2030 258 Q2030 272 2018 278 Q2006 276 2002 262 Z" fill="#5a8a35"/><path d="M1996 318 Q2010 312 2026 320 Q2020 334 2006 336 Q1996 330 1996 318 Z" fill="#2f5219"/><path d="M1947.0 268.0 Q1924.2 267.0 1910.0 285.0 Q1932.8 286.0 1947.0 268.0Z" fill="#3a6a22"/><path d="M1950.0 268.0 Q1951.3 254.5 1938.0 252.0 Q1936.7 265.5 1950.0 268.0Z" fill="#5a8a35"/><path d="M1958.0 282.0 Q1973.4 273.4 1970.0 256.0 Q1954.6 264.6 1958.0 282.0Z" fill="#6a9a40"/><path d="M1932 306 Q1944 300 1945 315 Q1944 330 1924 341 Q1916 322 1932 306 Z" fill="#5d8f3a"/><path d="M1955.0 300.0 Q1941.7 304.3 1944.0 318.0 Q1957.3 313.7 1955.0 300.0Z" fill="#6c9a42"/><path d="M1990.0 262.0 Q2008.9 265.7 2020.0 250.0 Q2001.1 246.3 1990.0 262.0Z" fill="#5c8a36"/><path d="M1985.0 318.0 Q1984.1 332.3 1998.0 336.0 Q1998.9 321.7 1985.0 318.0Z" fill="#4f7f2c"/><path d="M1916 190 Q1925 175 1945 168 L1990 150 L2020 150 L2032 168 L2028 215 L2010 232 L1975 236 L1935 222 L1918 212 Z" fill="#d9e5ee"/><path d="M2030 120 L2066 118 L2066 150 L2040 160 L2030 150 Z" fill="#dde8f0"/><path d="M2012 165 L2060 128 L2066 132 L2062 175 L2030 245 L2012 252 Z" fill="#f3f4f2"/><path d="M2020 190 L2058 140 M2018 205 L2055 155 M2016 222 L2050 172 M2016 238 L2045 190" stroke="#9a9a9a" stroke-width="0.6" fill="none"/><path d="M1938 212 L1955 207 L1978 220 L1975 240 L1945 240 Z" fill="#8a5a2c"/><path d="M1950 218 L1968 230" stroke="#4aa0c8" stroke-width="2" fill="none"/><ellipse cx="2000" cy="142" rx="18" ry="12" fill="#3f7d28"/><ellipse cx="1978" cy="172" rx="16" ry="12" fill="#4a8a30"/><path d="M1975.0 165.0 Q1964.1 149.4 1945.0 150.0 Q1955.9 165.6 1975.0 165.0Z" fill="#4a8a30"/><path d="M1995.0 160.0 Q1992.9 181.6 2010.0 195.0 Q2012.1 173.4 1995.0 160.0Z" fill="#3c7a26"/><path d="M1985.0 165.0 Q1966.3 174.2 1965.0 195.0 Q1983.7 185.8 1985.0 165.0Z" fill="#4f8f33"/><ellipse cx="2035" cy="108" rx="24" ry="12" fill="#4a8a30"/><ellipse cx="1960" cy="200" rx="16" ry="9" fill="#4b8a2e"/><ellipse cx="1930" cy="178" rx="14" ry="9" fill="#5a9a3a"/><path d="M1990.0 175.0 Q1993.9 192.4 2010.0 200.0 Q2006.1 182.6 1990.0 175.0Z" fill="#4f8f33"/><path d="M1950.0 150.0 Q1936.1 152.3 1930.0 165.0 Q1943.9 162.7 1950.0 150.0Z" fill="#5a9a3a"/><path d="M2078 125 Q2086 150 2084 178 L2078 180 Q2074 150 2078 125 Z" fill="#f39a66"/><path d="M2074 115 L2076 180" stroke="#7fb24a" stroke-width="1.2"/><circle cx="2045" cy="87" r="6" fill="#f39ab2"/><circle cx="2045" cy="87" r="3.7" fill="#e4789a"/><circle cx="2045" cy="87" r="1.1" fill="#f0c040"/><circle cx="2063" cy="84" r="5.5" fill="#f6a7bd"/><circle cx="2063" cy="84" r="3.4" fill="#e98aa5"/><circle cx="2063" cy="84" r="1.0" fill="#f0c040"/><circle cx="2076" cy="90" r="5.5" fill="#f7b0c4"/><circle cx="2076" cy="90" r="3.4" fill="#ec95ad"/><circle cx="2076" cy="90" r="1.0" fill="#f0c040"/><circle cx="2066" cy="95" r="6" fill="#f5a3ba"/><circle cx="2066" cy="95" r="3.7" fill="#e68aa2"/><circle cx="2066" cy="95" r="1.1" fill="#f0c040"/><circle cx="2049" cy="98" r="5.5" fill="#f3a4ba"/><circle cx="2049" cy="98" r="3.4" fill="#de86a0"/><circle cx="2049" cy="98" r="1.0" fill="#f0c040"/><circle cx="2037" cy="94" r="5.5" fill="#f29ab2"/><circle cx="2037" cy="94" r="3.4" fill="#e07e98"/><circle cx="2037" cy="94" r="1.0" fill="#f0c040"/><circle cx="2026" cy="97" r="6" fill="#f08aa8"/><circle cx="2026" cy="97" r="3.7" fill="#dd6e90"/><circle cx="2026" cy="97" r="1.1" fill="#f0c040"/><circle cx="2010" cy="86" r="5.5" fill="#e87090"/><circle cx="2010" cy="86" r="3.4" fill="#d05878"/><circle cx="2010" cy="86" r="1.0" fill="#f0c040"/><circle cx="2002" cy="92" r="5" fill="#d8283a"/><circle cx="2002" cy="92" r="3.1" fill="#b81a2c"/><circle cx="2002" cy="92" r="1.0" fill="#f0c040"/><circle cx="1996" cy="104" r="6" fill="#e02a34"/><circle cx="1996" cy="104" r="3.7" fill="#c01c26"/><circle cx="1996" cy="104" r="1.1" fill="#f0c040"/><circle cx="1978" cy="104" r="6.5" fill="#e83a38"/><circle cx="1978" cy="104" r="4.0" fill="#c82a28"/><circle cx="1978" cy="104" r="1.2" fill="#f0c040"/><circle cx="1963" cy="103" r="7" fill="#f26050"/><circle cx="1963" cy="103" r="4.3" fill="#dc4a3c"/><circle cx="1963" cy="103" r="1.3" fill="#f0c040"/><circle cx="1955" cy="113" r="7.5" fill="#fa7060"/><circle cx="1955" cy="113" r="4.7" fill="#e85545"/><circle cx="1955" cy="113" r="1.3" fill="#f0c040"/><circle cx="1953" cy="123" r="6" fill="#f66a5a"/><circle cx="1953" cy="123" r="3.7" fill="#e05040"/><circle cx="1953" cy="123" r="1.1" fill="#f0c040"/><circle cx="1973" cy="117" r="8" fill="#e62630"/><circle cx="1973" cy="117" r="5.0" fill="#c81822"/><circle cx="1973" cy="117" r="1.4" fill="#f0c040"/><circle cx="1993" cy="120" r="9" fill="#f25555"/><circle cx="1993" cy="120" r="5.6" fill="#dc3c3c"/><circle cx="1993" cy="120" r="1.6" fill="#f0c040"/><circle cx="2010" cy="134" r="8.5" fill="#dc1628"/><circle cx="2010" cy="134" r="5.3" fill="#b8101e"/><circle cx="2010" cy="134" r="1.5" fill="#f0c040"/><circle cx="2027" cy="119" r="9.5" fill="#e8202c"/><circle cx="2027" cy="119" r="5.9" fill="#c81420"/><circle cx="2027" cy="119" r="1.7" fill="#f0c040"/><circle cx="2042" cy="121" r="8.5" fill="#f59bb5"/><circle cx="2042" cy="121" r="5.3" fill="#e07a98"/><circle cx="2042" cy="121" r="1.5" fill="#f0c040"/><circle cx="2058" cy="126" r="8.5" fill="#f7a3bb"/><circle cx="2058" cy="126" r="5.3" fill="#e6849e"/><circle cx="2058" cy="126" r="1.5" fill="#f0c040"/><circle cx="2052" cy="108" r="6.5" fill="#f5a0b8"/><circle cx="2052" cy="108" r="4.0" fill="#e08aa2"/><circle cx="2052" cy="108" r="1.2" fill="#f0c040"/><circle cx="1962" cy="130" r="11.5" fill="#fb7866"/><circle cx="1962" cy="130" r="7.1" fill="#ee5c4c"/><circle cx="1962" cy="130" r="2.1" fill="#f0c040"/><circle cx="2021" cy="138" r="8" fill="#d81b78"/><circle cx="2021" cy="138" r="5.0" fill="#b8126a"/><circle cx="2021" cy="138" r="1.4" fill="#f0c040"/><circle cx="1934" cy="143" r="7" fill="#e045a6"/><circle cx="1934" cy="143" r="4.3" fill="#c02a8a"/><circle cx="1934" cy="143" r="1.3" fill="#f0c040"/><circle cx="1937" cy="161" r="6.5" fill="#c82278"/><circle cx="1937" cy="161" r="4.0" fill="#a8186a"/><circle cx="1937" cy="161" r="1.2" fill="#f0c040"/><circle cx="1946" cy="183" r="9" fill="#e83ca4"/><circle cx="1946" cy="183" r="5.6" fill="#c82488"/><circle cx="1946" cy="183" r="1.6" fill="#f0c040"/><circle cx="2004" cy="186" r="10" fill="#e0208a"/><circle cx="2004" cy="186" r="6.2" fill="#c0126e"/><circle cx="2004" cy="186" r="1.8" fill="#f0c040"/><circle cx="2021" cy="177" r="10" fill="#d4186e"/><circle cx="2021" cy="177" r="6.2" fill="#b01058"/><circle cx="2021" cy="177" r="1.8" fill="#f0c040"/><circle cx="1977" cy="210" r="12" fill="#e02a9c"/><circle cx="1977" cy="210" r="7.4" fill="#c01880"/><circle cx="1977" cy="210" r="2.2" fill="#f0c040"/><circle cx="2053" cy="158" r="6" fill="#e02084"/><circle cx="2053" cy="158" r="3.7" fill="#c01270"/><circle cx="2053" cy="158" r="1.1" fill="#f0c040"/><circle cx="1931" cy="232" r="11.7" fill="#e9ad06"/><path d="M1938.6 231.7Q1943.1 234.5 1948.2 231.2Q1942.8 228.4 1938.6 231.7Z" fill="#f3bd08"/><path d="M1938.4 234.1Q1941.8 238.3 1947.8 236.8Q1943.5 232.3 1938.4 234.1Z" fill="#fbd015"/><path d="M1937.2 236.4Q1938.6 240.6 1943.6 241.0Q1941.6 236.5 1937.2 236.4Z" fill="#f3bd08"/><path d="M1936.3 237.6Q1937.1 243.4 1943.6 245.3Q1942.0 238.7 1936.3 237.6Z" fill="#fbd015"/><path d="M1934.1 239.0Q1933.1 243.6 1937.5 246.8Q1938.1 241.4 1934.1 239.0Z" fill="#f3bd08"/><path d="M1930.9 239.6Q1927.9 243.8 1930.8 249.0Q1933.9 243.9 1930.9 239.6Z" fill="#fbd015"/><path d="M1928.9 239.3Q1924.8 242.6 1926.2 248.3Q1930.6 244.2 1928.9 239.3Z" fill="#f3bd08"/><path d="M1927.0 238.5Q1922.9 240.3 1922.7 245.5Q1927.3 243.0 1927.0 238.5Z" fill="#fbd015"/><path d="M1925.3 237.1Q1919.4 237.7 1917.2 244.2Q1923.9 242.9 1925.3 237.1Z" fill="#f3bd08"/><path d="M1924.1 235.3Q1918.5 234.3 1914.8 239.7Q1921.3 240.3 1924.1 235.3Z" fill="#fbd015"/><path d="M1923.4 232.9Q1919.6 230.8 1915.6 233.9Q1920.2 235.8 1923.4 232.9Z" fill="#f3bd08"/><path d="M1923.5 230.5Q1919.8 226.6 1913.9 228.6Q1918.6 232.7 1923.5 230.5Z" fill="#fbd015"/><path d="M1924.0 228.9Q1921.8 225.2 1916.9 225.8Q1919.8 229.8 1924.0 228.9Z" fill="#f3bd08"/><path d="M1925.7 226.4Q1925.0 221.3 1919.3 219.7Q1920.7 225.5 1925.7 226.4Z" fill="#fbd015"/><path d="M1927.4 225.2Q1928.2 219.3 1922.4 215.7Q1922.1 222.5 1927.4 225.2Z" fill="#f3bd08"/><path d="M1929.6 224.5Q1932.1 219.0 1927.5 213.7Q1925.2 220.3 1929.6 224.5Z" fill="#fbd015"/><path d="M1931.4 224.4Q1935.1 219.8 1932.0 213.8Q1928.3 219.4 1931.4 224.4Z" fill="#f3bd08"/><path d="M1933.7 224.9Q1938.8 221.5 1937.7 214.6Q1932.2 219.0 1933.7 224.9Z" fill="#fbd015"/><path d="M1936.2 226.3Q1940.5 225.4 1941.5 220.4Q1936.7 222.0 1936.2 226.3Z" fill="#f3bd08"/><path d="M1937.0 227.3Q1941.7 227.1 1943.7 222.1Q1938.4 222.8 1937.0 227.3Z" fill="#fbd015"/><path d="M1938.5 230.3Q1943.2 232.3 1947.5 228.4Q1941.9 226.6 1938.5 230.3Z" fill="#f3bd08"/><path d="M1938.6 232.8Q1940.9 235.0 1944.2 233.4Q1941.4 231.1 1938.6 232.8Z" fill="#fcd41c"/><path d="M1938.0 235.2Q1939.5 238.1 1943.2 237.6Q1941.2 234.5 1938.0 235.2Z" fill="#f6c40c"/><path d="M1937.0 236.8Q1938.1 240.2 1942.1 240.9Q1940.5 237.0 1937.0 236.8Z" fill="#fcd41c"/><path d="M1934.3 238.9Q1933.8 243.1 1937.7 245.9Q1938.0 241.0 1934.3 238.9Z" fill="#f6c40c"/><path d="M1932.4 239.5Q1930.9 242.6 1933.4 245.5Q1934.8 241.8 1932.4 239.5Z" fill="#fcd41c"/><path d="M1930.4 239.6Q1928.2 242.2 1929.9 245.8Q1932.1 242.6 1930.4 239.6Z" fill="#f6c40c"/><path d="M1928.6 239.3Q1925.9 241.1 1926.8 244.7Q1929.7 242.3 1928.6 239.3Z" fill="#fcd41c"/><path d="M1926.5 238.2Q1922.4 239.8 1921.8 244.9Q1926.4 242.6 1926.5 238.2Z" fill="#f6c40c"/><path d="M1924.4 235.9Q1920.2 235.7 1917.7 240.0Q1922.6 239.8 1924.4 235.9Z" fill="#fcd41c"/><path d="M1923.6 233.9Q1920.5 232.6 1917.8 235.3Q1921.5 236.5 1923.6 233.9Z" fill="#f6c40c"/><path d="M1923.4 232.3Q1920.0 230.2 1916.1 232.5Q1920.2 234.5 1923.4 232.3Z" fill="#fcd41c"/><path d="M1923.8 229.5Q1921.2 226.0 1916.3 226.8Q1919.6 230.5 1923.8 229.5Z" fill="#f6c40c"/><path d="M1925.0 227.3Q1924.2 224.1 1920.6 223.8Q1921.8 227.3 1925.0 227.3Z" fill="#fcd41c"/><path d="M1926.3 225.9Q1926.1 221.9 1921.8 220.1Q1922.5 224.6 1926.3 225.9Z" fill="#f6c40c"/><path d="M1928.2 224.9Q1929.1 221.7 1926.1 219.4Q1925.4 223.1 1928.2 224.9Z" fill="#fcd41c"/><path d="M1930.4 224.4Q1932.2 221.7 1929.9 218.8Q1928.2 222.0 1930.4 224.4Z" fill="#f6c40c"/><path d="M1933.3 224.7Q1936.6 222.0 1935.6 217.0Q1932.0 220.5 1933.3 224.7Z" fill="#fcd41c"/><path d="M1934.9 225.4Q1938.0 224.0 1938.1 220.0Q1934.6 222.0 1934.9 225.4Z" fill="#f6c40c"/><path d="M1937.0 227.2Q1940.8 226.9 1942.5 222.8Q1938.1 223.5 1937.0 227.2Z" fill="#fcd41c"/><path d="M1938.1 229.1Q1942.3 230.0 1945.5 226.2Q1940.5 225.6 1938.1 229.1Z" fill="#f6c40c"/><path d="M1938.6 230.9Q1941.8 232.4 1945.1 229.9Q1941.2 228.5 1938.6 230.9Z" fill="#fcd41c"/><circle cx="1931" cy="232" r="9" fill="#5e3a0c"/><circle cx="1931" cy="232" r="7.2" fill="#442708"/><circle cx="1931" cy="232" r="4.5" fill="#2e1c06"/><circle cx="1985" cy="243" r="8.1" fill="#e9ad06"/><path d="M1990.1 243.1Q1993.6 245.7 1998.0 243.3Q1993.7 240.7 1990.1 243.1Z" fill="#f3bd08"/><path d="M1989.7 245.0Q1992.1 248.9 1997.4 248.3Q1994.2 244.0 1989.7 245.0Z" fill="#fbd015"/><path d="M1988.8 246.4Q1989.7 250.9 1994.9 252.1Q1993.3 247.0 1988.8 246.4Z" fill="#f3bd08"/><path d="M1987.9 247.2Q1987.9 251.1 1992.0 253.1Q1991.6 248.5 1987.9 247.2Z" fill="#fbd015"/><path d="M1985.5 248.1Q1983.4 251.7 1986.2 255.7Q1988.3 251.3 1985.5 248.1Z" fill="#f3bd08"/><path d="M1983.8 247.9Q1981.1 250.2 1982.3 254.0Q1985.0 251.2 1983.8 247.9Z" fill="#fbd015"/><path d="M1982.5 247.4Q1979.2 249.0 1979.2 253.2Q1982.8 251.1 1982.5 247.4Z" fill="#f3bd08"/><path d="M1981.1 246.2Q1977.0 246.5 1975.3 251.0Q1980.0 250.2 1981.1 246.2Z" fill="#fbd015"/><path d="M1980.4 245.1Q1976.8 244.5 1974.5 247.9Q1978.6 248.3 1980.4 245.1Z" fill="#f3bd08"/><path d="M1979.9 243.2Q1976.1 240.7 1971.6 243.5Q1976.3 246.0 1979.9 243.2Z" fill="#fbd015"/><path d="M1980.3 241.0Q1978.4 238.1 1974.4 238.6Q1976.9 241.8 1980.3 241.0Z" fill="#f3bd08"/><path d="M1981.3 239.5Q1980.6 236.1 1976.7 235.2Q1977.8 239.1 1981.3 239.5Z" fill="#fbd015"/><path d="M1982.5 238.5Q1982.9 235.1 1979.5 233.0Q1979.4 237.0 1982.5 238.5Z" fill="#f3bd08"/><path d="M1983.7 238.1Q1985.3 233.8 1981.6 230.1Q1980.2 235.2 1983.7 238.1Z" fill="#fbd015"/><path d="M1985.6 237.9Q1988.1 235.3 1986.4 231.5Q1983.9 234.8 1985.6 237.9Z" fill="#f3bd08"/><path d="M1987.9 238.8Q1992.2 237.3 1992.6 232.1Q1987.9 234.3 1987.9 238.8Z" fill="#fbd015"/><path d="M1988.8 239.6Q1993.4 239.0 1995.1 233.9Q1989.8 235.0 1988.8 239.6Z" fill="#f3bd08"/><path d="M1989.8 241.3Q1993.9 242.4 1997.1 238.7Q1992.2 237.8 1989.8 241.3Z" fill="#fbd015"/><path d="M1990.0 244.1Q1992.2 246.7 1995.9 245.5Q1993.1 242.8 1990.0 244.1Z" fill="#fcd41c"/><path d="M1989.4 245.5Q1990.3 248.4 1993.6 248.0Q1992.3 244.9 1989.4 245.5Z" fill="#f6c40c"/><path d="M1988.6 246.6Q1989.0 249.9 1992.7 250.7Q1991.9 247.0 1988.6 246.6Z" fill="#fcd41c"/><path d="M1986.8 247.8Q1985.8 251.0 1988.8 253.4Q1989.6 249.6 1986.8 247.8Z" fill="#f6c40c"/><path d="M1985.1 248.1Q1983.2 250.8 1985.2 254.1Q1987.2 250.8 1985.1 248.1Z" fill="#fcd41c"/><path d="M1983.4 247.9Q1980.7 249.8 1981.6 253.6Q1984.5 251.1 1983.4 247.9Z" fill="#f6c40c"/><path d="M1981.6 246.8Q1978.5 247.2 1978.1 250.6Q1981.5 249.9 1981.6 246.8Z" fill="#fcd41c"/><path d="M1980.6 245.5Q1977.3 245.1 1975.5 248.4Q1979.3 248.5 1980.6 245.5Z" fill="#f6c40c"/><path d="M1980.0 244.2Q1977.2 242.8 1974.7 245.4Q1978.1 246.7 1980.0 244.2Z" fill="#fcd41c"/><path d="M1980.0 241.8Q1978.3 239.4 1975.3 240.7Q1977.4 243.3 1980.0 241.8Z" fill="#f6c40c"/><path d="M1980.7 240.2Q1979.6 237.1 1975.9 237.1Q1977.4 240.5 1980.7 240.2Z" fill="#fcd41c"/><path d="M1982.0 238.9Q1982.2 235.9 1979.0 234.9Q1979.0 238.3 1982.0 238.9Z" fill="#f6c40c"/><path d="M1982.9 238.3Q1983.6 235.0 1980.4 232.8Q1980.0 236.7 1982.9 238.3Z" fill="#fcd41c"/><path d="M1985.3 237.9Q1987.4 235.6 1985.6 232.6Q1983.4 235.4 1985.3 237.9Z" fill="#f6c40c"/><path d="M1986.4 238.1Q1988.9 236.6 1987.7 233.5Q1985.1 235.5 1986.4 238.1Z" fill="#fcd41c"/><path d="M1988.4 239.2Q1991.3 238.8 1991.6 235.5Q1988.3 236.2 1988.4 239.2Z" fill="#f6c40c"/><path d="M1989.6 240.8Q1992.7 241.5 1994.7 238.4Q1991.0 237.9 1989.6 240.8Z" fill="#fcd41c"/><path d="M1990.0 241.9Q1992.9 243.2 1995.6 240.6Q1992.0 239.3 1990.0 241.9Z" fill="#f6c40c"/><circle cx="1985" cy="243" r="6" fill="#5e3a0c"/><circle cx="1985" cy="243" r="4.8" fill="#442708"/><circle cx="1985" cy="243" r="3.0" fill="#2e1c06"/><circle cx="2043" cy="276" r="8.4" fill="#e9ad06"/><path d="M2048.1 275.8Q2051.4 278.1 2055.3 275.6Q2051.3 273.4 2048.1 275.8Z" fill="#f3bd08"/><path d="M2047.8 277.8Q2049.9 281.0 2054.3 280.2Q2051.5 276.8 2047.8 277.8Z" fill="#fbd015"/><path d="M2047.0 279.2Q2048.2 283.3 2053.1 284.0Q2051.3 279.4 2047.0 279.2Z" fill="#f3bd08"/><path d="M2046.1 280.0Q2046.3 284.6 2051.1 286.6Q2050.5 281.4 2046.1 280.0Z" fill="#fbd015"/><path d="M2044.6 280.8Q2043.4 285.1 2047.2 288.4Q2048.2 283.4 2044.6 280.8Z" fill="#f3bd08"/><path d="M2043.0 281.1Q2040.7 284.3 2042.9 288.2Q2045.2 284.3 2043.0 281.1Z" fill="#fbd015"/><path d="M2041.0 280.7Q2036.7 283.3 2037.5 289.1Q2042.1 285.6 2041.0 280.7Z" fill="#f3bd08"/><path d="M2039.8 280.0Q2035.9 281.1 2035.1 285.8Q2039.6 284.1 2039.8 280.0Z" fill="#fbd015"/><path d="M2038.5 278.3Q2033.3 277.6 2030.0 282.6Q2036.1 283.0 2038.5 278.3Z" fill="#f3bd08"/><path d="M2038.0 276.8Q2034.1 274.8 2030.1 278.0Q2034.8 279.8 2038.0 276.8Z" fill="#fbd015"/><path d="M2038.1 274.7Q2035.6 271.8 2031.3 273.0Q2034.5 276.1 2038.1 274.7Z" fill="#f3bd08"/><path d="M2038.7 273.3Q2037.1 269.4 2032.2 269.3Q2034.5 273.5 2038.7 273.3Z" fill="#fbd015"/><path d="M2039.3 272.5Q2038.6 268.6 2034.2 267.5Q2035.4 271.9 2039.3 272.5Z" fill="#f3bd08"/><path d="M2040.8 271.4Q2041.7 266.5 2036.9 263.2Q2036.4 269.0 2040.8 271.4Z" fill="#fbd015"/><path d="M2042.3 270.9Q2044.4 266.8 2041.1 262.6Q2039.1 267.6 2042.3 270.9Z" fill="#f3bd08"/><path d="M2044.4 271.1Q2047.7 268.4 2046.5 263.5Q2042.9 267.0 2044.4 271.1Z" fill="#fbd015"/><path d="M2045.8 271.8Q2049.4 270.4 2049.7 265.9Q2045.7 267.9 2045.8 271.8Z" fill="#f3bd08"/><path d="M2046.8 272.6Q2050.8 272.1 2052.2 267.6Q2047.6 268.6 2046.8 272.6Z" fill="#fbd015"/><path d="M2047.9 274.5Q2052.1 275.9 2055.5 272.1Q2050.6 271.0 2047.9 274.5Z" fill="#f3bd08"/><path d="M2048.1 276.6Q2051.1 279.2 2055.3 277.5Q2051.6 274.8 2048.1 276.6Z" fill="#fcd41c"/><path d="M2047.6 278.1Q2049.5 281.2 2053.7 280.9Q2051.2 277.6 2047.6 278.1Z" fill="#f6c40c"/><path d="M2046.7 279.5Q2047.2 282.7 2050.8 283.3Q2049.9 279.8 2046.7 279.5Z" fill="#fcd41c"/><path d="M2044.6 280.8Q2043.5 283.8 2046.4 286.1Q2047.3 282.5 2044.6 280.8Z" fill="#f6c40c"/><path d="M2043.3 281.1Q2041.5 284.0 2043.6 287.2Q2045.5 283.7 2043.3 281.1Z" fill="#fcd41c"/><path d="M2041.8 281.0Q2039.2 283.2 2040.3 287.0Q2043.1 284.1 2041.8 281.0Z" fill="#f6c40c"/><path d="M2040.4 280.4Q2037.1 282.1 2036.9 286.5Q2040.7 284.2 2040.4 280.4Z" fill="#fcd41c"/><path d="M2039.2 279.4Q2036.0 279.6 2035.1 283.1Q2038.7 282.6 2039.2 279.4Z" fill="#f6c40c"/><path d="M2038.3 278.1Q2035.2 277.2 2033.2 280.3Q2036.8 280.9 2038.3 278.1Z" fill="#fcd41c"/><path d="M2037.9 276.1Q2034.6 274.0 2030.7 276.2Q2034.7 278.3 2037.9 276.1Z" fill="#f6c40c"/><path d="M2038.1 274.4Q2036.5 271.8 2033.1 272.8Q2035.3 275.6 2038.1 274.4Z" fill="#fcd41c"/><path d="M2038.8 273.0Q2037.4 269.3 2032.8 268.8Q2034.9 272.9 2038.8 273.0Z" fill="#f6c40c"/><path d="M2039.9 272.0Q2039.7 268.4 2035.9 266.8Q2036.5 270.9 2039.9 272.0Z" fill="#fcd41c"/><path d="M2041.6 271.1Q2042.8 267.7 2039.9 264.7Q2038.9 268.8 2041.6 271.1Z" fill="#f6c40c"/><path d="M2043.3 270.9Q2045.4 268.0 2043.6 264.3Q2041.4 267.8 2043.3 270.9Z" fill="#fcd41c"/><path d="M2045.0 271.3Q2048.1 269.4 2047.7 265.3Q2044.4 267.8 2045.0 271.3Z" fill="#f6c40c"/><path d="M2046.7 272.5Q2050.2 272.0 2051.4 268.1Q2047.4 269.1 2046.7 272.5Z" fill="#fcd41c"/><path d="M2047.3 273.3Q2050.4 273.8 2051.7 270.6Q2048.2 270.4 2047.3 273.3Z" fill="#f6c40c"/><path d="M2048.1 275.6Q2051.0 277.3 2054.2 275.0Q2050.7 273.3 2048.1 275.6Z" fill="#fcd41c"/><circle cx="2043" cy="276" r="6" fill="#5e3a0c"/><circle cx="2043" cy="276" r="4.8" fill="#442708"/><circle cx="2043" cy="276" r="3.0" fill="#2e1c06"/><circle cx="1961" cy="296" r="8.8" fill="#e9ad06"/><path d="M1966.9 296.0Q1969.7 297.9 1973.0 295.9Q1969.7 293.9 1966.9 296.0Z" fill="#f3bd08"/><path d="M1966.7 297.7Q1969.2 300.9 1973.8 299.8Q1970.5 296.4 1966.7 297.7Z" fill="#fbd015"/><path d="M1965.9 299.4Q1967.1 302.8 1971.1 303.1Q1969.4 299.4 1965.9 299.4Z" fill="#f3bd08"/><path d="M1963.6 301.3Q1962.9 304.4 1965.9 306.1Q1966.5 302.6 1963.6 301.3Z" fill="#fbd015"/><path d="M1962.0 301.9Q1960.4 305.2 1963.1 308.5Q1964.6 304.5 1962.0 301.9Z" fill="#f3bd08"/><path d="M1960.4 301.9Q1958.2 304.5 1959.9 308.0Q1962.2 304.8 1960.4 301.9Z" fill="#fbd015"/><path d="M1957.8 301.0Q1954.6 302.4 1954.5 306.4Q1958.0 304.5 1957.8 301.0Z" fill="#f3bd08"/><path d="M1956.3 299.6Q1953.1 299.6 1951.9 303.0Q1955.6 302.7 1956.3 299.6Z" fill="#fbd015"/><path d="M1955.5 298.3Q1952.5 297.4 1950.5 300.4Q1954.0 301.1 1955.5 298.3Z" fill="#f3bd08"/><path d="M1955.1 296.0Q1951.7 293.6 1947.5 296.0Q1951.7 298.4 1955.1 296.0Z" fill="#fbd015"/><path d="M1955.4 293.9Q1953.3 290.6 1948.8 291.3Q1951.6 294.9 1955.4 293.9Z" fill="#f3bd08"/><path d="M1956.4 292.3Q1955.3 288.5 1950.9 287.9Q1952.5 292.0 1956.4 292.3Z" fill="#fbd015"/><path d="M1957.7 291.1Q1957.9 287.8 1954.4 286.2Q1954.5 290.0 1957.7 291.1Z" fill="#f3bd08"/><path d="M1960.1 290.1Q1961.9 286.7 1959.1 283.2Q1957.5 287.3 1960.1 290.1Z" fill="#fbd015"/><path d="M1962.0 290.1Q1964.3 288.1 1962.8 284.9Q1960.4 287.4 1962.0 290.1Z" fill="#f3bd08"/><path d="M1963.8 290.7Q1966.7 289.4 1966.4 285.7Q1963.2 287.6 1963.8 290.7Z" fill="#fbd015"/><path d="M1965.4 292.0Q1969.4 291.5 1970.7 287.2Q1966.3 288.1 1965.4 292.0Z" fill="#f3bd08"/><path d="M1966.5 293.7Q1970.5 294.6 1973.3 290.8Q1968.6 290.2 1966.5 293.7Z" fill="#fbd015"/><path d="M1966.8 297.1Q1968.4 299.4 1971.2 297.9Q1969.2 295.5 1966.8 297.1Z" fill="#fcd41c"/><path d="M1966.1 299.0Q1966.6 301.7 1969.5 301.0Q1968.6 298.2 1966.1 299.0Z" fill="#f6c40c"/><path d="M1964.6 300.8Q1964.4 303.9 1967.7 305.0Q1967.6 301.5 1964.6 300.8Z" fill="#fcd41c"/><path d="M1962.9 301.6Q1961.5 303.9 1964.1 305.2Q1965.3 302.6 1962.9 301.6Z" fill="#f6c40c"/><path d="M1961.0 301.9Q1959.0 303.8 1961.0 306.1Q1963.0 303.8 1961.0 301.9Z" fill="#fcd41c"/><path d="M1959.2 301.7Q1956.6 303.5 1957.5 307.0Q1960.4 304.7 1959.2 301.7Z" fill="#f6c40c"/><path d="M1956.8 300.2Q1954.3 299.9 1954.3 302.7Q1957.1 302.8 1956.8 300.2Z" fill="#fcd41c"/><path d="M1955.7 298.6Q1952.9 297.8 1951.4 300.8Q1954.6 301.4 1955.7 298.6Z" fill="#f6c40c"/><path d="M1955.2 297.2Q1953.0 295.5 1951.2 297.9Q1953.8 299.5 1955.2 297.2Z" fill="#fcd41c"/><path d="M1955.2 294.8Q1953.6 292.4 1950.8 293.9Q1952.8 296.3 1955.2 294.8Z" fill="#f6c40c"/><path d="M1955.9 292.9Q1955.1 290.0 1951.8 290.3Q1953.0 293.4 1955.9 292.9Z" fill="#fcd41c"/><path d="M1956.9 291.7Q1956.7 288.6 1953.3 288.0Q1953.8 291.4 1956.9 291.7Z" fill="#f6c40c"/><path d="M1959.4 290.3Q1960.7 287.3 1958.0 284.9Q1956.9 288.4 1959.4 290.3Z" fill="#fcd41c"/><path d="M1961.1 290.1Q1963.1 288.5 1961.2 286.5Q1959.1 288.4 1961.1 290.1Z" fill="#f6c40c"/><path d="M1962.5 290.3Q1964.9 289.1 1963.5 286.6Q1961.0 288.1 1962.5 290.3Z" fill="#fcd41c"/><path d="M1965.2 291.7Q1967.9 291.8 1968.0 288.8Q1965.0 289.0 1965.2 291.7Z" fill="#f6c40c"/><path d="M1966.1 292.9Q1969.2 293.3 1970.7 290.1Q1967.1 289.9 1966.1 292.9Z" fill="#fcd41c"/><path d="M1966.8 294.8Q1969.3 296.3 1971.4 293.8Q1968.5 292.4 1966.8 294.8Z" fill="#f6c40c"/><circle cx="1961" cy="296" r="7" fill="#5e3a0c"/><circle cx="1961" cy="296" r="5.6" fill="#442708"/><circle cx="1961" cy="296" r="3.5" fill="#2e1c06"/><circle cx="2007" cy="295" r="23.1" fill="#e9ad06"/><path d="M2022.3 294.9Q2030.6 300.7 2040.7 294.7Q2030.5 288.9 2022.3 294.9Z" fill="#f3bd08"/><path d="M2021.7 299.4Q2027.7 307.1 2038.6 304.5Q2030.9 296.2 2021.7 299.4Z" fill="#fbd015"/><path d="M2020.9 301.4Q2026.0 310.3 2037.7 309.3Q2031.0 299.6 2020.9 301.4Z" fill="#f3bd08"/><path d="M2019.7 303.6Q2023.2 312.9 2034.6 313.7Q2029.6 303.3 2019.7 303.6Z" fill="#fbd015"/><path d="M2016.6 306.9Q2017.3 317.9 2029.2 322.4Q2027.3 309.8 2016.6 306.9Z" fill="#f3bd08"/><path d="M2015.1 308.0Q2014.6 317.1 2023.9 322.0Q2023.6 311.5 2015.1 308.0Z" fill="#fbd015"/><path d="M2012.1 309.4Q2009.1 320.1 2018.9 328.4Q2021.2 315.8 2012.1 309.4Z" fill="#f3bd08"/><path d="M2007.3 310.3Q2002.7 317.0 2007.6 325.0Q2012.2 316.8 2007.3 310.3Z" fill="#fbd015"/><path d="M2003.3 309.8Q1994.4 317.4 1998.1 330.4Q2007.5 320.7 2003.3 309.8Z" fill="#f3bd08"/><path d="M2001.0 309.1Q1992.1 314.4 1993.5 326.3Q2003.1 319.2 2001.0 309.1Z" fill="#fbd015"/><path d="M1999.2 308.2Q1991.8 311.4 1991.8 320.7Q1999.8 316.2 1999.2 308.2Z" fill="#f3bd08"/><path d="M1995.8 305.5Q1987.7 306.6 1985.0 315.6Q1994.2 313.5 1995.8 305.5Z" fill="#fbd015"/><path d="M1994.3 303.6Q1985.4 303.4 1981.0 312.6Q1991.2 311.9 1994.3 303.6Z" fill="#f3bd08"/><path d="M1992.9 301.1Q1983.4 299.0 1976.7 308.1Q1987.9 309.4 1992.9 301.1Z" fill="#fbd015"/><path d="M1991.8 296.8Q1981.9 291.4 1971.6 299.2Q1983.5 304.4 1991.8 296.8Z" fill="#f3bd08"/><path d="M1991.8 293.3Q1984.0 286.3 1973.0 291.2Q1982.7 298.4 1991.8 293.3Z" fill="#fbd015"/><path d="M1992.5 290.1Q1986.3 281.6 1974.4 284.0Q1982.4 293.2 1992.5 290.1Z" fill="#f3bd08"/><path d="M1993.8 287.2Q1990.2 278.9 1979.7 278.9Q1984.8 288.0 1993.8 287.2Z" fill="#fbd015"/><path d="M1996.8 283.6Q1995.6 271.8 1982.6 267.5Q1985.3 280.9 1996.8 283.6Z" fill="#f3bd08"/><path d="M1999.2 281.8Q2000.1 271.2 1989.3 265.2Q1989.4 277.5 1999.2 281.8Z" fill="#fbd015"/><path d="M2000.9 281.0Q2002.7 272.3 1994.5 266.3Q1993.3 276.4 2000.9 281.0Z" fill="#f3bd08"/><path d="M2004.0 280.0Q2007.3 272.5 2001.0 265.4Q1998.0 274.4 2004.0 280.0Z" fill="#fbd015"/><path d="M2008.5 279.8Q2014.8 272.6 2010.3 262.6Q2003.8 271.5 2008.5 279.8Z" fill="#f3bd08"/><path d="M2012.0 280.5Q2019.7 275.0 2017.6 264.3Q2009.3 271.4 2012.0 280.5Z" fill="#fbd015"/><path d="M2015.2 282.1Q2025.7 277.9 2026.2 264.9Q2014.7 270.9 2015.2 282.1Z" fill="#f3bd08"/><path d="M2015.9 282.5Q2024.2 279.6 2025.1 269.5Q2015.8 273.7 2015.9 282.5Z" fill="#fbd015"/><path d="M2019.8 286.6Q2029.6 287.0 2034.7 276.9Q2023.4 277.5 2019.8 286.6Z" fill="#f3bd08"/><path d="M2021.4 289.8Q2030.5 292.3 2037.6 283.9Q2026.8 281.9 2021.4 289.8Z" fill="#fbd015"/><path d="M2021.7 290.6Q2031.5 294.0 2039.7 285.2Q2028.1 282.4 2021.7 290.6Z" fill="#f3bd08"/><path d="M2022.2 296.6Q2028.0 301.4 2036.0 298.0Q2028.9 293.1 2022.2 296.6Z" fill="#fcd41c"/><path d="M2021.4 300.3Q2024.8 305.0 2031.5 304.1Q2027.1 298.9 2021.4 300.3Z" fill="#f6c40c"/><path d="M2020.7 301.7Q2024.1 307.5 2031.7 307.1Q2027.3 300.9 2020.7 301.7Z" fill="#fcd41c"/><path d="M2018.5 305.1Q2020.6 312.8 2029.7 314.8Q2026.5 306.1 2018.5 305.1Z" fill="#f6c40c"/><path d="M2015.2 307.9Q2015.0 315.3 2022.4 319.4Q2021.9 310.9 2015.2 307.9Z" fill="#fcd41c"/><path d="M2012.5 309.3Q2010.9 316.6 2017.5 322.3Q2018.7 313.6 2012.5 309.3Z" fill="#f6c40c"/><path d="M2010.4 309.9Q2008.0 316.3 2013.2 322.2Q2015.4 314.6 2010.4 309.9Z" fill="#fcd41c"/><path d="M2007.1 310.3Q2002.5 317.2 2007.1 325.7Q2011.7 317.2 2007.1 310.3Z" fill="#f6c40c"/><path d="M2004.1 310.0Q1998.4 315.7 2001.2 324.6Q2007.1 317.4 2004.1 310.0Z" fill="#fcd41c"/><path d="M2000.9 309.0Q1994.4 313.1 1995.2 321.9Q2002.2 316.5 2000.9 309.0Z" fill="#f6c40c"/><path d="M1997.4 306.9Q1991.0 309.0 1989.7 316.6Q1996.8 313.6 1997.4 306.9Z" fill="#fcd41c"/><path d="M1994.3 303.5Q1988.8 303.5 1985.9 309.1Q1992.2 308.6 1994.3 303.5Z" fill="#f6c40c"/><path d="M1993.6 302.5Q1985.3 301.8 1980.2 310.0Q1989.8 309.9 1993.6 302.5Z" fill="#fcd41c"/><path d="M1992.1 298.3Q1986.7 296.2 1981.8 300.5Q1988.1 302.4 1992.1 298.3Z" fill="#f6c40c"/><path d="M1991.8 293.7Q1985.1 288.4 1976.2 292.4Q1984.4 297.8 1991.8 293.7Z" fill="#fcd41c"/><path d="M1991.9 292.7Q1986.9 288.2 1979.5 290.9Q1985.7 295.6 1991.9 292.7Z" fill="#f6c40c"/><path d="M1992.7 289.5Q1989.0 284.2 1981.7 285.2Q1986.5 290.9 1992.7 289.5Z" fill="#fcd41c"/><path d="M1995.0 285.5Q1993.2 279.8 1986.4 278.7Q1989.1 285.0 1995.0 285.5Z" fill="#f6c40c"/><path d="M1997.5 283.0Q1997.0 277.5 1991.1 274.9Q1992.2 281.3 1997.5 283.0Z" fill="#fcd41c"/><path d="M1999.1 281.9Q1999.4 273.9 1991.4 269.2Q1991.8 278.5 1999.1 281.9Z" fill="#f6c40c"/><path d="M2002.7 280.3Q2004.6 273.9 1999.1 268.4Q1997.5 276.0 2002.7 280.3Z" fill="#fcd41c"/><path d="M2006.4 279.7Q2010.1 273.8 2005.9 266.9Q2002.4 274.1 2006.4 279.7Z" fill="#f6c40c"/><path d="M2009.2 279.9Q2012.8 275.8 2010.6 269.8Q2006.8 274.9 2009.2 279.9Z" fill="#fcd41c"/><path d="M2013.2 281.0Q2020.4 276.5 2019.6 266.6Q2011.8 272.6 2013.2 281.0Z" fill="#f6c40c"/><path d="M2016.6 283.1Q2023.8 280.8 2025.4 272.2Q2017.3 275.6 2016.6 283.1Z" fill="#fcd41c"/><path d="M2017.8 284.2Q2024.3 282.9 2026.4 275.6Q2019.1 277.8 2017.8 284.2Z" fill="#f6c40c"/><path d="M2020.4 287.6Q2027.9 288.2 2032.6 280.7Q2023.8 280.8 2020.4 287.6Z" fill="#fcd41c"/><path d="M2021.1 289.1Q2027.2 290.3 2031.7 284.8Q2024.6 284.0 2021.1 289.1Z" fill="#f6c40c"/><path d="M2022.2 293.0Q2028.5 296.1 2035.1 291.3Q2027.5 288.3 2022.2 293.0Z" fill="#fcd41c"/><circle cx="2007" cy="295" r="18" fill="#5e3a0c"/><circle cx="2007" cy="295" r="14.4" fill="#442708"/><circle cx="2007" cy="295" r="9.0" fill="#2e1c06"/><path d="M2015.0 285.0 Q2033.8 303.6 2060.0 300.0 Q2041.2 281.4 2015.0 285.0Z" fill="#3c6a20"/><circle cx="2075" cy="221" r="37.5" fill="#e9ad06"/><path d="M2097.9 220.0Q2115.6 231.5 2136.1 218.4Q2114.6 207.1 2097.9 220.0Z" fill="#f3bd08"/><path d="M2097.3 226.5Q2111.8 243.3 2136.4 236.1Q2118.0 218.3 2097.3 226.5Z" fill="#fbd015"/><path d="M2096.4 229.2Q2106.4 244.1 2126.9 240.8Q2113.9 224.6 2096.4 229.2Z" fill="#f3bd08"/><path d="M2094.4 233.3Q2101.1 250.0 2121.8 250.8Q2112.3 232.4 2094.4 233.3Z" fill="#fbd015"/><path d="M2089.6 238.7Q2090.9 255.9 2109.7 262.8Q2106.4 243.1 2089.6 238.7Z" fill="#f3bd08"/><path d="M2086.4 240.9Q2084.6 258.7 2102.4 269.1Q2102.6 248.5 2086.4 240.9Z" fill="#fbd015"/><path d="M2082.9 242.6Q2077.7 261.2 2094.9 275.5Q2098.8 253.5 2082.9 242.6Z" fill="#f3bd08"/><path d="M2076.1 243.9Q2064.9 261.2 2077.8 281.2Q2088.7 260.1 2076.1 243.9Z" fill="#fbd015"/><path d="M2074.5 243.9Q2063.6 258.7 2073.9 277.1Q2084.9 259.1 2074.5 243.9Z" fill="#f3bd08"/><path d="M2069.3 243.2Q2052.1 257.7 2059.1 282.5Q2077.3 264.1 2069.3 243.2Z" fill="#fbd015"/><path d="M2062.5 240.2Q2042.0 248.3 2040.8 273.5Q2063.4 262.2 2062.5 240.2Z" fill="#f3bd08"/><path d="M2058.7 237.2Q2037.5 240.6 2031.0 264.6Q2055.0 258.4 2058.7 237.2Z" fill="#fbd015"/><path d="M2055.4 233.0Q2033.6 231.5 2021.7 253.7Q2046.9 253.1 2055.4 233.0Z" fill="#f3bd08"/><path d="M2054.4 231.2Q2032.5 227.7 2018.4 249.2Q2044.0 250.8 2054.4 231.2Z" fill="#fbd015"/><path d="M2052.6 225.8Q2032.7 217.3 2014.3 234.0Q2038.0 241.8 2052.6 225.8Z" fill="#f3bd08"/><path d="M2052.1 220.7Q2036.4 209.3 2017.0 220.4Q2036.1 231.8 2052.1 220.7Z" fill="#fbd015"/><path d="M2052.4 216.8Q2039.0 202.8 2018.0 210.3Q2034.9 224.9 2052.4 216.8Z" fill="#f3bd08"/><path d="M2053.7 212.4Q2044.5 197.8 2024.8 200.6Q2037.0 216.3 2053.7 212.4Z" fill="#fbd015"/><path d="M2057.2 206.5Q2051.4 185.4 2026.5 181.4Q2035.4 205.1 2057.2 206.5Z" fill="#f3bd08"/><path d="M2061.1 202.7Q2060.5 181.6 2038.0 172.2Q2041.0 196.4 2061.1 202.7Z" fill="#fbd015"/><path d="M2063.7 201.0Q2066.0 179.6 2044.5 167.0Q2044.2 191.9 2063.7 201.0Z" fill="#f3bd08"/><path d="M2066.5 199.7Q2071.5 179.2 2052.5 164.2Q2048.9 188.2 2066.5 199.7Z" fill="#fbd015"/><path d="M2072.4 198.2Q2080.9 182.8 2068.7 166.5Q2060.6 185.1 2072.4 198.2Z" fill="#f3bd08"/><path d="M2076.2 198.1Q2088.7 182.4 2078.1 161.9Q2065.5 181.2 2076.2 198.1Z" fill="#fbd015"/><path d="M2081.1 198.9Q2096.3 186.6 2090.6 164.7Q2074.5 180.5 2081.1 198.9Z" fill="#f3bd08"/><path d="M2086.8 201.3Q2104.4 193.7 2104.7 171.6Q2085.4 182.3 2086.8 201.3Z" fill="#fbd015"/><path d="M2089.2 203.0Q2108.2 197.4 2111.4 174.9Q2090.2 183.2 2089.2 203.0Z" fill="#f3bd08"/><path d="M2092.9 206.7Q2110.9 205.7 2118.4 186.3Q2097.9 189.3 2092.9 206.7Z" fill="#fbd015"/><path d="M2095.4 210.6Q2114.2 213.3 2126.0 195.0Q2104.2 193.8 2095.4 210.6Z" fill="#f3bd08"/><path d="M2097.0 214.6Q2116.8 221.4 2133.3 204.0Q2110.0 198.2 2097.0 214.6Z" fill="#fbd015"/><path d="M2097.9 221.8Q2110.8 231.1 2127.2 222.9Q2111.4 213.5 2097.9 221.8Z" fill="#fcd41c"/><path d="M2096.6 228.7Q2106.9 242.4 2126.6 239.3Q2113.3 224.5 2096.6 228.7Z" fill="#f6c40c"/><path d="M2095.3 231.7Q2101.7 243.3 2117.0 243.1Q2108.5 230.3 2095.3 231.7Z" fill="#fcd41c"/><path d="M2091.4 237.0Q2094.6 252.3 2112.0 257.2Q2106.7 239.9 2091.4 237.0Z" fill="#f6c40c"/><path d="M2089.1 239.1Q2090.3 254.8 2107.0 262.0Q2104.0 244.0 2089.1 239.1Z" fill="#fcd41c"/><path d="M2084.7 241.8Q2082.3 257.9 2097.4 269.0Q2098.6 250.2 2084.7 241.8Z" fill="#f6c40c"/><path d="M2081.3 243.1Q2077.2 255.5 2087.9 266.4Q2091.2 251.6 2081.3 243.1Z" fill="#fcd41c"/><path d="M2073.4 243.9Q2064.9 254.9 2071.6 269.4Q2080.3 255.9 2073.4 243.9Z" fill="#f6c40c"/><path d="M2071.2 243.6Q2059.9 255.6 2066.1 273.5Q2077.9 258.6 2071.2 243.6Z" fill="#fcd41c"/><path d="M2065.2 241.7Q2054.3 248.3 2055.2 262.9Q2067.0 254.3 2065.2 241.7Z" fill="#f6c40c"/><path d="M2061.3 239.4Q2046.7 244.7 2044.2 262.6Q2060.6 255.0 2061.3 239.4Z" fill="#fcd41c"/><path d="M2058.9 237.3Q2043.7 240.5 2038.7 257.8Q2055.9 252.6 2058.9 237.3Z" fill="#f6c40c"/><path d="M2055.9 233.8Q2042.2 233.8 2034.8 247.9Q2050.7 246.4 2055.9 233.8Z" fill="#fcd41c"/><path d="M2053.7 229.7Q2041.0 227.1 2031.5 238.7Q2046.5 240.4 2053.7 229.7Z" fill="#f6c40c"/><path d="M2052.1 221.5Q2040.1 213.9 2026.0 222.0Q2040.5 229.6 2052.1 221.5Z" fill="#fcd41c"/><path d="M2052.5 216.7Q2042.3 206.6 2026.5 211.7Q2039.3 222.2 2052.5 216.7Z" fill="#f6c40c"/><path d="M2053.3 213.5Q2043.2 200.1 2024.0 203.4Q2037.1 217.7 2053.3 213.5Z" fill="#fcd41c"/><path d="M2055.5 208.9Q2050.4 197.5 2036.0 196.7Q2043.1 209.3 2055.5 208.9Z" fill="#f6c40c"/><path d="M2058.2 205.4Q2054.6 190.4 2037.3 186.0Q2043.0 202.9 2058.2 205.4Z" fill="#fcd41c"/><path d="M2060.5 203.2Q2059.3 190.9 2046.1 185.5Q2048.7 199.6 2060.5 203.2Z" fill="#f6c40c"/><path d="M2067.1 199.5Q2070.5 185.1 2057.6 173.9Q2055.1 190.8 2067.1 199.5Z" fill="#fcd41c"/><path d="M2069.0 198.8Q2073.6 185.2 2062.1 173.1Q2058.2 189.3 2069.0 198.8Z" fill="#f6c40c"/><path d="M2073.9 198.1Q2082.3 184.0 2072.4 167.9Q2064.1 184.9 2073.9 198.1Z" fill="#fcd41c"/><path d="M2079.8 198.6Q2088.6 189.9 2084.5 176.1Q2075.2 187.0 2079.8 198.6Z" fill="#f6c40c"/><path d="M2085.5 200.6Q2096.2 194.6 2095.9 180.3Q2084.1 188.3 2085.5 200.6Z" fill="#fcd41c"/><path d="M2087.8 201.9Q2098.8 197.3 2100.1 183.5Q2087.8 190.0 2087.8 201.9Z" fill="#f6c40c"/><path d="M2092.7 206.4Q2105.1 205.1 2110.4 191.7Q2096.3 194.4 2092.7 206.4Z" fill="#fcd41c"/><path d="M2094.9 209.6Q2107.2 210.5 2114.7 198.3Q2100.4 198.6 2094.9 209.6Z" fill="#f6c40c"/><path d="M2096.8 213.8Q2112.0 218.0 2124.4 204.8Q2106.5 201.5 2096.8 213.8Z" fill="#fcd41c"/><path d="M2097.8 218.7Q2110.6 225.5 2124.4 216.1Q2109.0 209.6 2097.8 218.7Z" fill="#f6c40c"/><circle cx="2075" cy="221" r="27" fill="#5e3a0c"/><circle cx="2075" cy="221" r="21.6" fill="#442708"/><circle cx="2075" cy="221" r="13.5" fill="#2e1c06"/></svg>
</div></body></html>
